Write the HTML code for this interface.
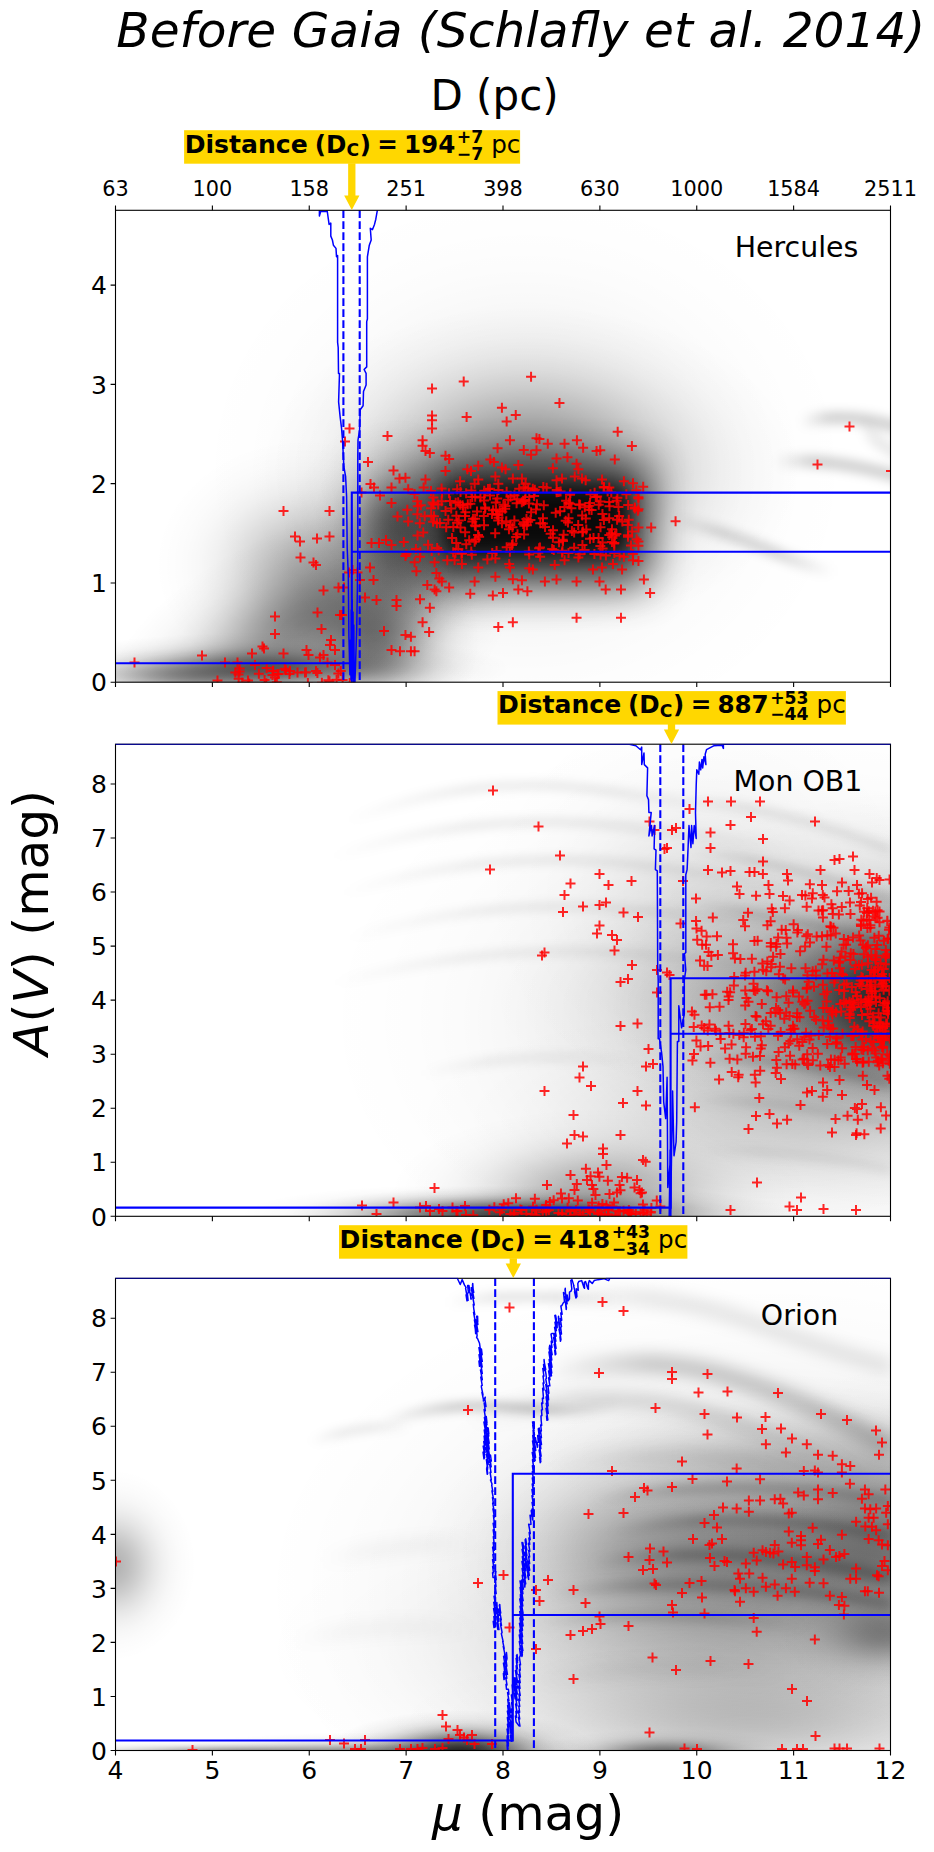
<!DOCTYPE html>
<html><head><meta charset="utf-8"><title>Before Gaia (Schlafly et al. 2014)</title>
<style>html,body{margin:0;padding:0;background:#fff}svg{display:block}</style></head>
<body>
<svg width="934" height="1852" viewBox="0 0 934 1852" font-family="DejaVu Sans, Liberation Sans, sans-serif" fill="#000">
<defs><radialGradient id="gg" cx="0.5" cy="0.5" r="0.5"><stop offset="0.0" stop-color="#000" stop-opacity="1.000"/><stop offset="0.1" stop-color="#000" stop-opacity="0.956"/><stop offset="0.2" stop-color="#000" stop-opacity="0.835"/><stop offset="0.3" stop-color="#000" stop-opacity="0.667"/><stop offset="0.4" stop-color="#000" stop-opacity="0.487"/><stop offset="0.5" stop-color="#000" stop-opacity="0.325"/><stop offset="0.6" stop-color="#000" stop-opacity="0.198"/><stop offset="0.7" stop-color="#000" stop-opacity="0.110"/><stop offset="0.8" stop-color="#000" stop-opacity="0.056"/><stop offset="0.9" stop-color="#000" stop-opacity="0.026"/><stop offset="1.0" stop-color="#000" stop-opacity="0.000"/></radialGradient><clipPath id="c0"><rect x="115.5" y="210.3" width="775.0" height="471.9"/></clipPath><clipPath id="c1"><rect x="115.5" y="744.2" width="775.0" height="472.1"/></clipPath><clipPath id="c2"><rect x="115.5" y="1278.3" width="775.0" height="472.2"/></clipPath><filter id="b3" filterUnits="userSpaceOnUse" x="0" y="0" width="934" height="1852"><feGaussianBlur stdDeviation="3"/></filter><filter id="b5" filterUnits="userSpaceOnUse" x="0" y="0" width="934" height="1852"><feGaussianBlur stdDeviation="5"/></filter><filter id="b8" filterUnits="userSpaceOnUse" x="0" y="0" width="934" height="1852"><feGaussianBlur stdDeviation="8"/></filter><filter id="b12" filterUnits="userSpaceOnUse" x="0" y="0" width="934" height="1852"><feGaussianBlur stdDeviation="12"/></filter><filter id="b22" filterUnits="userSpaceOnUse" x="0" y="0" width="934" height="1852"><feGaussianBlur stdDeviation="22"/></filter><filter id="b10" filterUnits="userSpaceOnUse" x="0" y="0" width="934" height="1852"><feGaussianBlur stdDeviation="10"/></filter></defs>
<g clip-path="url(#c0)"><ellipse cx="525" cy="470" rx="330" ry="285" fill="url(#gg)" opacity="0.12"/><ellipse cx="530" cy="470" rx="270" ry="165" fill="url(#gg)" opacity="0.4"/><rect x="428" y="466" width="220" height="118" fill="#000" opacity="0.8" filter="url(#b22)"/><rect x="447" y="489" width="180" height="63" fill="#000" opacity="0.72" filter="url(#b10)"/><ellipse cx="400" cy="560" rx="120" ry="150" fill="url(#gg)" opacity="0.4"/><ellipse cx="398" cy="520" rx="84" ry="102" fill="url(#gg)" opacity="0.45"/><ellipse cx="305" cy="565" rx="150" ry="126" fill="url(#gg)" opacity="0.28"/><ellipse cx="375" cy="640" rx="105" ry="90" fill="url(#gg)" opacity="0.45"/><ellipse cx="300" cy="625" rx="210" ry="96" fill="url(#gg)" opacity="0.42" transform="rotate(-25 300 625)"/><ellipse cx="270" cy="668" rx="240" ry="36" fill="url(#gg)" opacity="0.55"/><ellipse cx="180" cy="676" rx="150" ry="27" fill="url(#gg)" opacity="0.3"/><linearGradient id="s1" gradientUnits="userSpaceOnUse" x1="800" y1="0" x2="900" y2="0"><stop offset="0" stop-color="#000" stop-opacity="0"/><stop offset="0.3" stop-color="#000" stop-opacity="1"/><stop offset="1" stop-color="#000" stop-opacity="1"/></linearGradient><path d="M800,422 Q850,411 900,428" fill="none" stroke="url(#s1)" stroke-width="13" stroke-opacity="0.17" filter="url(#b5)"/><linearGradient id="s2" gradientUnits="userSpaceOnUse" x1="775" y1="0" x2="900" y2="0"><stop offset="0" stop-color="#000" stop-opacity="0"/><stop offset="0.3" stop-color="#000" stop-opacity="1"/><stop offset="1" stop-color="#000" stop-opacity="1"/></linearGradient><path d="M775,462 Q828,457 900,477" fill="none" stroke="url(#s2)" stroke-width="13" stroke-opacity="0.17" filter="url(#b5)"/><linearGradient id="s3" gradientUnits="userSpaceOnUse" x1="672" y1="0" x2="835" y2="0"><stop offset="0" stop-color="#000" stop-opacity="0"/><stop offset="0.3" stop-color="#000" stop-opacity="1"/><stop offset="0.65" stop-color="#000" stop-opacity="1"/><stop offset="1" stop-color="#000" stop-opacity="0"/></linearGradient><path d="M672,519 Q721,530 774,552 T835,570" fill="none" stroke="url(#s3)" stroke-width="12" stroke-opacity="0.15" filter="url(#b5)"/><linearGradient id="s4" gradientUnits="userSpaceOnUse" x1="860" y1="0" x2="900" y2="0"><stop offset="0" stop-color="#000" stop-opacity="0"/><stop offset="0.3" stop-color="#000" stop-opacity="1"/><stop offset="1" stop-color="#000" stop-opacity="1"/></linearGradient><path d="M860,425 Q880,445 900,455" fill="none" stroke="url(#s4)" stroke-width="14" stroke-opacity="0.08" filter="url(#b5)"/></g>
<g clip-path="url(#c1)"><ellipse cx="800" cy="1020" rx="480" ry="315" fill="url(#gg)" opacity="0.16"/><ellipse cx="910" cy="1000" rx="300" ry="210" fill="url(#gg)" opacity="0.42"/><ellipse cx="850" cy="1002" rx="360" ry="126" fill="url(#gg)" opacity="0.25"/><ellipse cx="700" cy="900" rx="225" ry="210" fill="url(#gg)" opacity="0.08"/><ellipse cx="900" cy="1000" rx="165" ry="120" fill="url(#gg)" opacity="0.68"/><ellipse cx="545" cy="1215" rx="255" ry="30" fill="url(#gg)" opacity="0.7"/><ellipse cx="450" cy="1215" rx="210" ry="30" fill="url(#gg)" opacity="0.35"/><ellipse cx="600" cy="1192" rx="210" ry="84" fill="url(#gg)" opacity="0.32"/><ellipse cx="760" cy="1120" rx="360" ry="120" fill="url(#gg)" opacity="0.1"/><linearGradient id="s5" gradientUnits="userSpaceOnUse" x1="345" y1="0" x2="760" y2="0"><stop offset="0" stop-color="#000" stop-opacity="0"/><stop offset="0.3" stop-color="#000" stop-opacity="1"/><stop offset="0.65" stop-color="#000" stop-opacity="1"/><stop offset="1" stop-color="#000" stop-opacity="0"/></linearGradient><path d="M345,822 Q470,772 600,790 T760,812" fill="none" stroke="url(#s5)" stroke-width="8" stroke-opacity="0.085" filter="url(#b5)"/><linearGradient id="s6" gradientUnits="userSpaceOnUse" x1="330" y1="0" x2="800" y2="0"><stop offset="0" stop-color="#000" stop-opacity="0"/><stop offset="0.3" stop-color="#000" stop-opacity="1"/><stop offset="0.65" stop-color="#000" stop-opacity="1"/><stop offset="1" stop-color="#000" stop-opacity="0"/></linearGradient><path d="M330,858 Q470,810 620,826 T800,856" fill="none" stroke="url(#s6)" stroke-width="8" stroke-opacity="0.085" filter="url(#b5)"/><linearGradient id="s7" gradientUnits="userSpaceOnUse" x1="340" y1="0" x2="820" y2="0"><stop offset="0" stop-color="#000" stop-opacity="0"/><stop offset="0.3" stop-color="#000" stop-opacity="1"/><stop offset="0.65" stop-color="#000" stop-opacity="1"/><stop offset="1" stop-color="#000" stop-opacity="0"/></linearGradient><path d="M340,895 Q480,848 630,864 T820,900" fill="none" stroke="url(#s7)" stroke-width="8" stroke-opacity="0.085" filter="url(#b5)"/><linearGradient id="s8" gradientUnits="userSpaceOnUse" x1="345" y1="0" x2="830" y2="0"><stop offset="0" stop-color="#000" stop-opacity="0"/><stop offset="0.3" stop-color="#000" stop-opacity="1"/><stop offset="0.65" stop-color="#000" stop-opacity="1"/><stop offset="1" stop-color="#000" stop-opacity="0"/></linearGradient><path d="M345,940 Q480,896 640,910 T830,940" fill="none" stroke="url(#s8)" stroke-width="8" stroke-opacity="0.08" filter="url(#b5)"/><linearGradient id="s9" gradientUnits="userSpaceOnUse" x1="330" y1="0" x2="800" y2="0"><stop offset="0" stop-color="#000" stop-opacity="0"/><stop offset="0.3" stop-color="#000" stop-opacity="1"/><stop offset="0.65" stop-color="#000" stop-opacity="1"/><stop offset="1" stop-color="#000" stop-opacity="0"/></linearGradient><path d="M330,985 Q480,942 640,954 T800,975" fill="none" stroke="url(#s9)" stroke-width="8" stroke-opacity="0.075" filter="url(#b5)"/><linearGradient id="s10" gradientUnits="userSpaceOnUse" x1="420" y1="0" x2="640" y2="0"><stop offset="0" stop-color="#000" stop-opacity="0"/><stop offset="0.3" stop-color="#000" stop-opacity="1"/><stop offset="0.65" stop-color="#000" stop-opacity="1"/><stop offset="1" stop-color="#000" stop-opacity="0"/></linearGradient><path d="M420,1075 Q520,1048 640,1062" fill="none" stroke="url(#s10)" stroke-width="8" stroke-opacity="0.065" filter="url(#b5)"/><linearGradient id="s11" gradientUnits="userSpaceOnUse" x1="690" y1="0" x2="891" y2="0"><stop offset="0" stop-color="#000" stop-opacity="0"/><stop offset="0.3" stop-color="#000" stop-opacity="1"/><stop offset="1" stop-color="#000" stop-opacity="1"/></linearGradient><path d="M690,800 Q790,810 891,850" fill="none" stroke="url(#s11)" stroke-width="8" stroke-opacity="0.1" filter="url(#b5)"/><linearGradient id="s12" gradientUnits="userSpaceOnUse" x1="690" y1="0" x2="891" y2="0"><stop offset="0" stop-color="#000" stop-opacity="0"/><stop offset="0.3" stop-color="#000" stop-opacity="1"/><stop offset="1" stop-color="#000" stop-opacity="1"/></linearGradient><path d="M690,850 Q790,862 891,900" fill="none" stroke="url(#s12)" stroke-width="8" stroke-opacity="0.12" filter="url(#b5)"/><linearGradient id="s13" gradientUnits="userSpaceOnUse" x1="690" y1="0" x2="891" y2="0"><stop offset="0" stop-color="#000" stop-opacity="0"/><stop offset="0.3" stop-color="#000" stop-opacity="1"/><stop offset="1" stop-color="#000" stop-opacity="1"/></linearGradient><path d="M690,905 Q790,915 891,945" fill="none" stroke="url(#s13)" stroke-width="9" stroke-opacity="0.14" filter="url(#b5)"/><linearGradient id="s14" gradientUnits="userSpaceOnUse" x1="690" y1="0" x2="891" y2="0"><stop offset="0" stop-color="#000" stop-opacity="0"/><stop offset="0.3" stop-color="#000" stop-opacity="1"/><stop offset="1" stop-color="#000" stop-opacity="1"/></linearGradient><path d="M690,1060 Q790,1055 891,1085" fill="none" stroke="url(#s14)" stroke-width="9" stroke-opacity="0.16" filter="url(#b5)"/><linearGradient id="s15" gradientUnits="userSpaceOnUse" x1="690" y1="0" x2="891" y2="0"><stop offset="0" stop-color="#000" stop-opacity="0"/><stop offset="0.3" stop-color="#000" stop-opacity="1"/><stop offset="1" stop-color="#000" stop-opacity="1"/></linearGradient><path d="M690,1100 Q790,1100 891,1125" fill="none" stroke="url(#s15)" stroke-width="8" stroke-opacity="0.1" filter="url(#b5)"/><linearGradient id="s16" gradientUnits="userSpaceOnUse" x1="700" y1="0" x2="891" y2="0"><stop offset="0" stop-color="#000" stop-opacity="0"/><stop offset="0.3" stop-color="#000" stop-opacity="1"/><stop offset="1" stop-color="#000" stop-opacity="1"/></linearGradient><path d="M700,1150 Q800,1150 891,1170" fill="none" stroke="url(#s16)" stroke-width="8" stroke-opacity="0.07" filter="url(#b5)"/></g>
<g clip-path="url(#c2)"><ellipse cx="770" cy="1590" rx="510" ry="330" fill="url(#gg)" opacity="0.22"/><ellipse cx="800" cy="1550" rx="345" ry="150" fill="url(#gg)" opacity="0.36"/><ellipse cx="640" cy="1550" rx="225" ry="144" fill="url(#gg)" opacity="0.16"/><ellipse cx="890" cy="1545" rx="150" ry="180" fill="url(#gg)" opacity="0.27"/><ellipse cx="700" cy="1650" rx="450" ry="165" fill="url(#gg)" opacity="0.12"/><ellipse cx="462" cy="1752" rx="135" ry="42" fill="url(#gg)" opacity="0.8"/><ellipse cx="380" cy="1753" rx="225" ry="21" fill="url(#gg)" opacity="0.4"/><ellipse cx="235" cy="1752" rx="225" ry="12" fill="url(#gg)" opacity="0.4"/><ellipse cx="665" cy="1753" rx="135" ry="24" fill="url(#gg)" opacity="0.5"/><ellipse cx="750" cy="1722" rx="360" ry="84" fill="url(#gg)" opacity="0.14"/><ellipse cx="112" cy="1565" rx="84" ry="96" fill="url(#gg)" opacity="0.3"/><ellipse cx="885" cy="1635" rx="105" ry="54" fill="url(#gg)" opacity="0.3"/><ellipse cx="800" cy="1455" rx="270" ry="84" fill="url(#gg)" opacity="0.12"/><linearGradient id="s17" gradientUnits="userSpaceOnUse" x1="545" y1="0" x2="891" y2="0"><stop offset="0" stop-color="#000" stop-opacity="0"/><stop offset="0.3" stop-color="#000" stop-opacity="1"/><stop offset="1" stop-color="#000" stop-opacity="1"/></linearGradient><path d="M545,1300 Q650,1286 751,1322 T891,1367" fill="none" stroke="url(#s17)" stroke-width="13" stroke-opacity="0.12" filter="url(#b8)"/><linearGradient id="s18" gradientUnits="userSpaceOnUse" x1="447" y1="0" x2="620" y2="0"><stop offset="0" stop-color="#000" stop-opacity="0"/><stop offset="0.3" stop-color="#000" stop-opacity="1"/><stop offset="0.65" stop-color="#000" stop-opacity="1"/><stop offset="1" stop-color="#000" stop-opacity="0"/></linearGradient><path d="M447,1303 Q500,1292 620,1300" fill="none" stroke="url(#s18)" stroke-width="10" stroke-opacity="0.1" filter="url(#b5)"/><linearGradient id="s19" gradientUnits="userSpaceOnUse" x1="545" y1="0" x2="891" y2="0"><stop offset="0" stop-color="#000" stop-opacity="0"/><stop offset="0.3" stop-color="#000" stop-opacity="1"/><stop offset="1" stop-color="#000" stop-opacity="1"/></linearGradient><path d="M545,1374 Q640,1354 715,1373 Q800,1396 891,1447" fill="none" stroke="url(#s19)" stroke-width="18" stroke-opacity="0.22" filter="url(#b8)"/><linearGradient id="s20" gradientUnits="userSpaceOnUse" x1="470" y1="0" x2="860" y2="0"><stop offset="0" stop-color="#000" stop-opacity="0"/><stop offset="0.3" stop-color="#000" stop-opacity="1"/><stop offset="0.65" stop-color="#000" stop-opacity="1"/><stop offset="1" stop-color="#000" stop-opacity="0"/></linearGradient><path d="M470,1420 Q584,1388 676,1406 Q760,1425 860,1474" fill="none" stroke="url(#s20)" stroke-width="14" stroke-opacity="0.16" filter="url(#b8)"/><linearGradient id="s21" gradientUnits="userSpaceOnUse" x1="380" y1="0" x2="620" y2="0"><stop offset="0" stop-color="#000" stop-opacity="0"/><stop offset="0.3" stop-color="#000" stop-opacity="1"/><stop offset="0.65" stop-color="#000" stop-opacity="1"/><stop offset="1" stop-color="#000" stop-opacity="0"/></linearGradient><path d="M380,1424 Q440,1400 520,1408 T620,1398" fill="none" stroke="url(#s21)" stroke-width="9" stroke-opacity="0.2" filter="url(#b5)"/><linearGradient id="s22" gradientUnits="userSpaceOnUse" x1="310" y1="0" x2="410" y2="0"><stop offset="0" stop-color="#000" stop-opacity="0"/><stop offset="0.3" stop-color="#000" stop-opacity="1"/><stop offset="0.65" stop-color="#000" stop-opacity="1"/><stop offset="1" stop-color="#000" stop-opacity="0"/></linearGradient><path d="M310,1442 Q360,1424 410,1427" fill="none" stroke="url(#s22)" stroke-width="8" stroke-opacity="0.09" filter="url(#b5)"/><linearGradient id="s23" gradientUnits="userSpaceOnUse" x1="590" y1="0" x2="891" y2="0"><stop offset="0" stop-color="#000" stop-opacity="0"/><stop offset="0.3" stop-color="#000" stop-opacity="1"/><stop offset="1" stop-color="#000" stop-opacity="1"/></linearGradient><path d="M590,1502 Q720,1474 891,1500" fill="none" stroke="url(#s23)" stroke-width="11" stroke-opacity="0.18" filter="url(#b5)"/><linearGradient id="s24" gradientUnits="userSpaceOnUse" x1="610" y1="0" x2="891" y2="0"><stop offset="0" stop-color="#000" stop-opacity="0"/><stop offset="0.3" stop-color="#000" stop-opacity="1"/><stop offset="1" stop-color="#000" stop-opacity="1"/></linearGradient><path d="M610,1532 Q740,1506 891,1536" fill="none" stroke="url(#s24)" stroke-width="11" stroke-opacity="0.2" filter="url(#b5)"/><linearGradient id="s25" gradientUnits="userSpaceOnUse" x1="590" y1="0" x2="891" y2="0"><stop offset="0" stop-color="#000" stop-opacity="0"/><stop offset="0.3" stop-color="#000" stop-opacity="1"/><stop offset="1" stop-color="#000" stop-opacity="1"/></linearGradient><path d="M590,1564 Q730,1540 891,1578" fill="none" stroke="url(#s25)" stroke-width="12" stroke-opacity="0.22" filter="url(#b5)"/><linearGradient id="s26" gradientUnits="userSpaceOnUse" x1="550" y1="0" x2="891" y2="0"><stop offset="0" stop-color="#000" stop-opacity="0"/><stop offset="0.3" stop-color="#000" stop-opacity="1"/><stop offset="1" stop-color="#000" stop-opacity="1"/></linearGradient><path d="M550,1594 Q700,1572 891,1604" fill="none" stroke="url(#s26)" stroke-width="11" stroke-opacity="0.2" filter="url(#b5)"/><linearGradient id="s27" gradientUnits="userSpaceOnUse" x1="530" y1="0" x2="810" y2="0"><stop offset="0" stop-color="#000" stop-opacity="0"/><stop offset="0.3" stop-color="#000" stop-opacity="1"/><stop offset="0.65" stop-color="#000" stop-opacity="1"/><stop offset="1" stop-color="#000" stop-opacity="0"/></linearGradient><path d="M530,1624 Q650,1606 810,1628" fill="none" stroke="url(#s27)" stroke-width="10" stroke-opacity="0.12" filter="url(#b5)"/><linearGradient id="s28" gradientUnits="userSpaceOnUse" x1="550" y1="0" x2="870" y2="0"><stop offset="0" stop-color="#000" stop-opacity="0"/><stop offset="0.3" stop-color="#000" stop-opacity="1"/><stop offset="0.65" stop-color="#000" stop-opacity="1"/><stop offset="1" stop-color="#000" stop-opacity="0"/></linearGradient><path d="M550,1466 Q700,1440 870,1480" fill="none" stroke="url(#s28)" stroke-width="11" stroke-opacity="0.12" filter="url(#b8)"/><linearGradient id="s29" gradientUnits="userSpaceOnUse" x1="530" y1="0" x2="790" y2="0"><stop offset="0" stop-color="#000" stop-opacity="0"/><stop offset="0.3" stop-color="#000" stop-opacity="1"/><stop offset="0.65" stop-color="#000" stop-opacity="1"/><stop offset="1" stop-color="#000" stop-opacity="0"/></linearGradient><path d="M530,1682 Q650,1660 790,1672" fill="none" stroke="url(#s29)" stroke-width="11" stroke-opacity="0.08" filter="url(#b8)"/><linearGradient id="s30" gradientUnits="userSpaceOnUse" x1="320" y1="0" x2="480" y2="0"><stop offset="0" stop-color="#000" stop-opacity="0"/><stop offset="0.3" stop-color="#000" stop-opacity="1"/><stop offset="0.65" stop-color="#000" stop-opacity="1"/><stop offset="1" stop-color="#000" stop-opacity="0"/></linearGradient><path d="M320,1562 Q400,1540 480,1545" fill="none" stroke="url(#s30)" stroke-width="10" stroke-opacity="0.06" filter="url(#b8)"/><linearGradient id="s31" gradientUnits="userSpaceOnUse" x1="290" y1="0" x2="480" y2="0"><stop offset="0" stop-color="#000" stop-opacity="0"/><stop offset="0.3" stop-color="#000" stop-opacity="1"/><stop offset="0.65" stop-color="#000" stop-opacity="1"/><stop offset="1" stop-color="#000" stop-opacity="0"/></linearGradient><path d="M290,1642 Q380,1620 480,1630" fill="none" stroke="url(#s31)" stroke-width="10" stroke-opacity="0.05" filter="url(#b8)"/></g>
<g clip-path="url(#c0)"><g fill="none" stroke="#ff0000" stroke-opacity="0.85" stroke-width="2"><path d="M344.5 428.5h10m-5-5v10M365.5 484h10m-5-5v10M312 538.5h10m-5-5v10M333.5 587.5h10m-5-5v10M257.5 646.5h10m-5-5v10M197 655.5h10m-5-5v10M212.5 680.5h10m-5-5v10M292.5 672.5h10m-5-5v10M326 640h10m-5-5v10M375 495.5h10m-5-5v10M381 540h10m-5-5v10M391.5 606h10m-5-5v10M352.5 572.5h10m-5-5v10M886 471h10m-5-5v10M510.76 415.06h10m-5-5v10M612.69 431.8h10m-5-5v10M504.94 440.17h10m-5-5v10M578.11 447.82h10m-5-5v10M492.56 448.18h10m-5-5v10M496.93 467.48h10m-5-5v10M465.99 471.12h10m-5-5v10M562.46 457.28h10m-5-5v10M569.74 476.58h10m-5-5v10M618.88 481.31h10m-5-5v10M490.38 476.58h10m-5-5v10M411.38 571.23h10m-5-5v10M473.27 567.59h10m-5-5v10M527.87 569.41h10m-5-5v10M597.04 567.59h10m-5-5v10M431.4 573.05h10m-5-5v10M422.3 585.06h10m-5-5v10M516.95 580.33h10m-5-5v10M539.89 581.42h10m-5-5v10M638.9 579.6h10m-5-5v10M417.57 622.19h10m-5-5v10M409.56 651.31h10m-5-5v10M633.44 509.34h10m-5-5v10M419.68 516.29h10m-5-5v10M550.7 512.7h10m-5-5v10M565.06 503.84h10m-5-5v10M534.95 547.41h10m-5-5v10M490.2 533.14h10m-5-5v10M497.26 511.76h10m-5-5v10M545.6 533.66h10m-5-5v10M606.97 529.37h10m-5-5v10M524.25 497.12h10m-5-5v10M451.31 542.99h10m-5-5v10M504.89 551.65h10m-5-5v10M418.26 532.58h10m-5-5v10M428.36 497.43h10m-5-5v10M523.85 551.42h10m-5-5v10M507.5 527.25h10m-5-5v10M531 509.49h10m-5-5v10M579.64 549.96h10m-5-5v10M623.18 504.91h10m-5-5v10M450.48 552.72h10m-5-5v10M520.43 491.44h10m-5-5v10M565.4 493.17h10m-5-5v10M523.93 503.45h10m-5-5v10M443.28 519.76h10m-5-5v10M566.91 530.88h10m-5-5v10M468.04 518.7h10m-5-5v10M461.14 493.19h10m-5-5v10M633.35 497.31h10m-5-5v10M597.55 542.52h10m-5-5v10M560.68 520.76h10m-5-5v10M447.05 538.05h10m-5-5v10M558.61 534.76h10m-5-5v10M448.15 552.25h10m-5-5v10M470.17 496.71h10m-5-5v10M486.96 514.11h10m-5-5v10M487.23 552.98h10m-5-5v10M480.14 507.55h10m-5-5v10M516.8 502.18h10m-5-5v10M534.14 548.22h10m-5-5v10M604.22 501.9h10m-5-5v10M538.34 487.01h10m-5-5v10M529.81 489.73h10m-5-5v10M541.65 487.72h10m-5-5v10M403.21 521.38h10m-5-5v10M588.5 538h10m-5-5v10M557.01 552.46h10m-5-5v10M233.67 678.63h10m-5-5v10M253.85 673.71h10m-5-5v10M233.48 674.57h10m-5-5v10M261.32 683.32h10m-5-5v10"/><path d="M340 441.5h10m-5-5v10M356.5 492.5h10m-5-5v10M324.5 536.5h10m-5-5v10M312.5 612.5h10m-5-5v10M259 648.5h10m-5-5v10M129.5 662.5h10m-5-5v10M243 680.5h10m-5-5v10M300 672.5h10m-5-5v10M330 650h10m-5-5v10M386.5 487.5h10m-5-5v10M386.5 545h10m-5-5v10M379 631h10m-5-5v10M344 572.5h10m-5-5v10M427.03 388.48h10m-5-5v10M461.62 416.88h10m-5-5v10M626.89 446h10m-5-5v10M531.51 438.35h10m-5-5v10M591.58 451.1h10m-5-5v10M518.77 450h10m-5-5v10M500.57 469.3h10m-5-5v10M440.5 471.12h10m-5-5v10M571.56 463.84h10m-5-5v10M577.02 478.4h10m-5-5v10M627.98 483.13h10m-5-5v10M493.29 483.86h10m-5-5v10M415.02 556.67h10m-5-5v10M482.37 559.58h10m-5-5v10M535.15 556.67h10m-5-5v10M607.96 563.95h10m-5-5v10M434.32 578.51h10m-5-5v10M415.02 599.26h10m-5-5v10M522.41 591.25h10m-5-5v10M551.53 579.6h10m-5-5v10M645.09 593.07h10m-5-5v10M424.12 632.02h10m-5-5v10M670.57 521.35h10m-5-5v10M633.44 498.42h10m-5-5v10M427.59 502.4h10m-5-5v10M528.91 491.33h10m-5-5v10M535.29 523.24h10m-5-5v10M472.99 534.98h10m-5-5v10M425.99 491.07h10m-5-5v10M609.32 553.08h10m-5-5v10M410.9 549.07h10m-5-5v10M485.04 495.48h10m-5-5v10M527.82 488.87h10m-5-5v10M633.4 545.83h10m-5-5v10M450.69 502.65h10m-5-5v10M584.97 538.76h10m-5-5v10M590.75 497.09h10m-5-5v10M501.68 547.15h10m-5-5v10M614.13 516.02h10m-5-5v10M521.89 525.33h10m-5-5v10M503.94 529.26h10m-5-5v10M455.51 492.05h10m-5-5v10M493.18 520.62h10m-5-5v10M633.43 541.4h10m-5-5v10M415.31 551.75h10m-5-5v10M446.22 508.53h10m-5-5v10M621.38 494.33h10m-5-5v10M494.72 510.98h10m-5-5v10M627.87 554.11h10m-5-5v10M493.48 489.88h10m-5-5v10M551.73 490.02h10m-5-5v10M595.51 527.3h10m-5-5v10M398.79 542.04h10m-5-5v10M512.48 534.18h10m-5-5v10M559.49 507.07h10m-5-5v10M448.36 527.12h10m-5-5v10M480.21 508.81h10m-5-5v10M500.3 505.99h10m-5-5v10M609.34 543.03h10m-5-5v10M574.63 554.36h10m-5-5v10M614.6 555.76h10m-5-5v10M577.17 515.48h10m-5-5v10M462.77 504.14h10m-5-5v10M491.57 550.95h10m-5-5v10M584.97 503.05h10m-5-5v10M470.06 518.79h10m-5-5v10M498.38 504.75h10m-5-5v10M518.67 501.16h10m-5-5v10M412.37 514.14h10m-5-5v10M273.54 673.98h10m-5-5v10M324.48 681.15h10m-5-5v10M323.36 680.27h10m-5-5v10M300.95 672.19h10m-5-5v10"/><path d="M382.5 436h10m-5-5v10M278.5 511h10m-5-5v10M295.5 557.5h10m-5-5v10M270 616.5h10m-5-5v10M247 653.5h10m-5-5v10M220 662.5h10m-5-5v10M267.5 675h10m-5-5v10M311 671h10m-5-5v10M270 677.5h10m-5-5v10M386.5 503h10m-5-5v10M368.5 580h10m-5-5v10M386.5 650h10m-5-5v10M339 587.5h10m-5-5v10M458.71 381.57h10m-5-5v10M501.66 421.61h10m-5-5v10M417.57 440.17h10m-5-5v10M534.42 439.08h10m-5-5v10M595.22 450.37h10m-5-5v10M526.05 454.74h10m-5-5v10M513.31 464.93h10m-5-5v10M420.48 479.49h10m-5-5v10M573.38 469.3h10m-5-5v10M580.66 480.22h10m-5-5v10M638.17 486.77h10m-5-5v10M507.85 478.4h10m-5-5v10M429.58 562.13h10m-5-5v10M490.38 558.49h10m-5-5v10M549.71 565.04h10m-5-5v10M617.06 569.41h10m-5-5v10M436.86 581.42h10m-5-5v10M424.85 607.63h10m-5-5v10M513.31 589.43h10m-5-5v10M571.56 581.42h10m-5-5v10M571.56 617.82h10m-5-5v10M400.46 634.93h10m-5-5v10M646.18 527.54h10m-5-5v10M475.4 497.41h10m-5-5v10M631.32 490.21h10m-5-5v10M412.24 501.21h10m-5-5v10M607.16 537.33h10m-5-5v10M540.05 527.01h10m-5-5v10M606.27 492.56h10m-5-5v10M453.77 520.46h10m-5-5v10M607.01 542.05h10m-5-5v10M600.9 555.52h10m-5-5v10M524.22 554.52h10m-5-5v10M593.58 538.05h10m-5-5v10M445.01 501.1h10m-5-5v10M512.25 499.32h10m-5-5v10M595.54 554.64h10m-5-5v10M595.45 501.56h10m-5-5v10M617.34 521.61h10m-5-5v10M585.44 494.32h10m-5-5v10M518.83 522.34h10m-5-5v10M558 541.09h10m-5-5v10M501.13 522.58h10m-5-5v10M584.18 505.66h10m-5-5v10M589.59 492.78h10m-5-5v10M470.9 539.41h10m-5-5v10M501.29 521.16h10m-5-5v10M575.07 504.64h10m-5-5v10M456.42 553.63h10m-5-5v10M537.95 523.51h10m-5-5v10M597.63 548.54h10m-5-5v10M611.39 534.12h10m-5-5v10M518.21 523.93h10m-5-5v10M581.31 529.57h10m-5-5v10M521.45 519.06h10m-5-5v10M431.88 523.16h10m-5-5v10M598.82 487.12h10m-5-5v10M409.54 494.02h10m-5-5v10M548.78 550.03h10m-5-5v10M460.18 532.26h10m-5-5v10M505.54 496.63h10m-5-5v10M496.92 523.17h10m-5-5v10M493.54 517.76h10m-5-5v10M595.32 546.03h10m-5-5v10M428.58 504.37h10m-5-5v10M627.19 531.48h10m-5-5v10M557.5 550.84h10m-5-5v10M629.8 508.51h10m-5-5v10M331.61 679.72h10m-5-5v10M268.15 670.71h10m-5-5v10M279.73 668.79h10m-5-5v10M234.67 668.56h10m-5-5v10M312.41 673.06h10m-5-5v10"/><path d="M363 462h10m-5-5v10M324.5 511h10m-5-5v10M308.5 562.5h10m-5-5v10M270 634h10m-5-5v10M278.5 653.5h10m-5-5v10M232.5 662.5h10m-5-5v10M272.5 674h10m-5-5v10M315 657.5h10m-5-5v10M322.5 662.5h10m-5-5v10M392.5 516.5h10m-5-5v10M360 597.5h10m-5-5v10M365 567.5h10m-5-5v10M335 615h10m-5-5v10M526.05 376.83h10m-5-5v10M427.03 415.42h10m-5-5v10M417.57 445.64h10m-5-5v10M542.8 443.82h10m-5-5v10M609.78 459.47h10m-5-5v10M531.51 450.37h10m-5-5v10M516.95 478.4h10m-5-5v10M400.46 477.67h10m-5-5v10M547.89 468.21h10m-5-5v10M597.04 479.49h10m-5-5v10M455.07 481.31h10m-5-5v10M520.59 483.86h10m-5-5v10M442.32 560.31h10m-5-5v10M504.21 563.95h10m-5-5v10M559.54 560.31h10m-5-5v10M618.88 556.67h10m-5-5v10M429.58 589.43h10m-5-5v10M469.63 581.42h10m-5-5v10M498.02 593.07h10m-5-5v10M594.49 581.42h10m-5-5v10M615.97 617.82h10m-5-5v10M405.92 636.75h10m-5-5v10M633.44 527.54h10m-5-5v10M553.57 492h10m-5-5v10M467.22 496.95h10m-5-5v10M500.19 508.68h10m-5-5v10M466.82 554.63h10m-5-5v10M507.03 544.96h10m-5-5v10M505.36 524.91h10m-5-5v10M538.8 505.13h10m-5-5v10M491.78 514.53h10m-5-5v10M509.37 520.38h10m-5-5v10M604.33 535.04h10m-5-5v10M452.19 522.72h10m-5-5v10M547.15 549.12h10m-5-5v10M586.6 509.94h10m-5-5v10M555.09 511.18h10m-5-5v10M458.19 507.21h10m-5-5v10M523.12 488.29h10m-5-5v10M531.91 504.15h10m-5-5v10M563.56 518.21h10m-5-5v10M612.39 497.66h10m-5-5v10M479.05 500.51h10m-5-5v10M428.96 516.14h10m-5-5v10M602.64 491.6h10m-5-5v10M467.3 521.51h10m-5-5v10M597.47 514.12h10m-5-5v10M437.02 492.83h10m-5-5v10M471.98 511.6h10m-5-5v10M577.38 532.37h10m-5-5v10M547.93 537.64h10m-5-5v10M563.7 502.87h10m-5-5v10M555.57 491.56h10m-5-5v10M551.62 492.35h10m-5-5v10M509.46 495.18h10m-5-5v10M609.96 535.53h10m-5-5v10M577.43 544.9h10m-5-5v10M466.26 551.56h10m-5-5v10M622.83 524.9h10m-5-5v10M469.9 525.46h10m-5-5v10M443.99 493.26h10m-5-5v10M488.07 510.34h10m-5-5v10M625.99 545.56h10m-5-5v10M434.9 523.04h10m-5-5v10M564.96 494.74h10m-5-5v10M511.6 503.2h10m-5-5v10M452.2 489.35h10m-5-5v10M453.16 502.28h10m-5-5v10M344.72 682.91h10m-5-5v10M230.33 672.48h10m-5-5v10M284.45 673.96h10m-5-5v10M237.2 682.72h10m-5-5v10M261.7 668.06h10m-5-5v10"/><path d="M388.5 470.5h10m-5-5v10M290 536.5h10m-5-5v10M311 565h10m-5-5v10M316.5 629h10m-5-5v10M301.5 650h10m-5-5v10M234.5 671.5h10m-5-5v10M281 670h10m-5-5v10M318.5 655h10m-5-5v10M330 665h10m-5-5v10M366.5 543h10m-5-5v10M371.5 600h10m-5-5v10M355 580h10m-5-5v10M844.5 426.5h10m-5-5v10M554.45 403.04h10m-5-5v10M427.03 420.15h10m-5-5v10M420.48 451.1h10m-5-5v10M559.54 443.82h10m-5-5v10M440.5 455.83h10m-5-5v10M485.28 459.47h10m-5-5v10M473.27 465.66h10m-5-5v10M418.66 487.5h10m-5-5v10M556.99 478.4h10m-5-5v10M598.86 487.5h10m-5-5v10M469.63 483.86h10m-5-5v10M400.46 555.94h10m-5-5v10M449.61 560.31h10m-5-5v10M504.94 567.59h10m-5-5v10M573.38 557.39h10m-5-5v10M627.98 560.31h10m-5-5v10M431.4 591.25h10m-5-5v10M490.38 576.69h10m-5-5v10M487.83 595.62h10m-5-5v10M600.68 589.43h10m-5-5v10M507.85 622.19h10m-5-5v10M395 651.31h10m-5-5v10M631.62 539.19h10m-5-5v10M526.08 512.23h10m-5-5v10M426.15 508.29h10m-5-5v10M537.95 518.27h10m-5-5v10M426.22 515.85h10m-5-5v10M623.78 519.71h10m-5-5v10M609.13 543.53h10m-5-5v10M533.36 552.76h10m-5-5v10M479.27 490.63h10m-5-5v10M461.28 544.19h10m-5-5v10M460.41 512.3h10m-5-5v10M482.98 489h10m-5-5v10M598.86 520.08h10m-5-5v10M589.4 554.04h10m-5-5v10M529.13 496.04h10m-5-5v10M455.49 527.46h10m-5-5v10M503.19 499.63h10m-5-5v10M464.18 540.29h10m-5-5v10M525.46 519.98h10m-5-5v10M569.15 532.56h10m-5-5v10M474.13 536.83h10m-5-5v10M593.74 504.84h10m-5-5v10M604.2 518.31h10m-5-5v10M440.52 510.94h10m-5-5v10M519.1 534.45h10m-5-5v10M606.06 533.27h10m-5-5v10M518.16 500.87h10m-5-5v10M569.12 547.66h10m-5-5v10M592.12 496.61h10m-5-5v10M423.08 544.67h10m-5-5v10M574.09 504.4h10m-5-5v10M433.23 504.52h10m-5-5v10M611.59 500.75h10m-5-5v10M453.3 548.94h10m-5-5v10M426.69 550.92h10m-5-5v10M457.59 505.34h10m-5-5v10M577.89 531.47h10m-5-5v10M492.25 498.55h10m-5-5v10M479.73 493.29h10m-5-5v10M412.83 506.15h10m-5-5v10M403.21 489.22h10m-5-5v10M623.02 536.8h10m-5-5v10M414.81 523.19h10m-5-5v10M457.05 553.28h10m-5-5v10M478.79 516.02h10m-5-5v10M579.75 507.35h10m-5-5v10M267.86 670.97h10m-5-5v10M270.42 683.29h10m-5-5v10M335.74 671.09h10m-5-5v10M259.56 679.96h10m-5-5v10M316.9 682.66h10m-5-5v10"/><path d="M394.5 478.5h10m-5-5v10M295 541.5h10m-5-5v10M318.5 590.5h10m-5-5v10M337 615h10m-5-5v10M303.5 655h10m-5-5v10M250 665h10m-5-5v10M285 671h10m-5-5v10M325 645h10m-5-5v10M369 487.5h10m-5-5v10M374 543h10m-5-5v10M391.5 600h10m-5-5v10M347.5 570h10m-5-5v10M812.5 464.5h10m-5-5v10M496.93 407.78h10m-5-5v10M427.03 428.53h10m-5-5v10M424.85 452.92h10m-5-5v10M571.92 440.17h10m-5-5v10M444.14 459.1h10m-5-5v10M488.92 462.02h10m-5-5v10M462.35 469.3h10m-5-5v10M551.53 458.38h10m-5-5v10M551.53 480.22h10m-5-5v10M604.32 487.5h10m-5-5v10M473.27 479.49h10m-5-5v10M409.56 562.13h10m-5-5v10M456.89 563.95h10m-5-5v10M524.23 568.31h10m-5-5v10M587.94 569.41h10m-5-5v10M633.44 561.03h10m-5-5v10M444.14 587.61h10m-5-5v10M507.85 579.24h10m-5-5v10M465.26 593.8h10m-5-5v10M615.97 589.43h10m-5-5v10M493.29 626.92h10m-5-5v10M405.92 651.31h10m-5-5v10M629.8 507.52h10m-5-5v10M501.64 491.82h10m-5-5v10M441.19 527.13h10m-5-5v10M469.64 541.81h10m-5-5v10M557.7 539.76h10m-5-5v10M412.5 535.4h10m-5-5v10M604.49 506.21h10m-5-5v10M563.03 522.57h10m-5-5v10M484.9 488.76h10m-5-5v10M436.58 488.59h10m-5-5v10M584.19 509.75h10m-5-5v10M563.51 553h10m-5-5v10M554.06 542.18h10m-5-5v10M492.61 514.7h10m-5-5v10M401.4 553.99h10m-5-5v10M459.99 515.91h10m-5-5v10M511.16 537.04h10m-5-5v10M519.34 525.76h10m-5-5v10M623.02 535.25h10m-5-5v10M432.17 547.92h10m-5-5v10M402.32 509.87h10m-5-5v10M433.7 550.42h10m-5-5v10M479.06 525.16h10m-5-5v10M573.21 525.02h10m-5-5v10M632.8 510.65h10m-5-5v10M465.38 503.71h10m-5-5v10M518.63 487.34h10m-5-5v10M491.09 509.5h10m-5-5v10M523.18 521.8h10m-5-5v10M548.04 530.21h10m-5-5v10M415.79 505.32h10m-5-5v10M470.76 526.18h10m-5-5v10M507.69 543.57h10m-5-5v10M514.19 488.71h10m-5-5v10M613.47 507h10m-5-5v10M520.12 500.1h10m-5-5v10M466.4 490.38h10m-5-5v10M436.64 501.34h10m-5-5v10M455.15 504.83h10m-5-5v10M428.08 521.73h10m-5-5v10M612.07 519.66h10m-5-5v10M580.79 518.56h10m-5-5v10M490.75 502.43h10m-5-5v10M566.41 508.21h10m-5-5v10M561.13 500.67h10m-5-5v10M451.37 515.78h10m-5-5v10M337.63 679.94h10m-5-5v10M244.23 683.43h10m-5-5v10M271.89 682.35h10m-5-5v10M333.33 673.43h10m-5-5v10M302.91 683.09h10m-5-5v10"/></g></g>
<g clip-path="url(#c1)"><g fill="none" stroke="#ff0000" stroke-opacity="0.85" stroke-width="2"><path d="M488 790.5h10m-5-5v10M603.5 885h10m-5-5v10M558 912h10m-5-5v10M612 940h10m-5-5v10M615.5 982h10m-5-5v10M539.5 1091h10m-5-5v10M641 1105.5h10m-5-5v10M598 1148.5h10m-5-5v10M587 1185h10m-5-5v10M634.5 1190h10m-5-5v10M667 830h10m-5-5v10M675.5 923.5h10m-5-5v10M726 801.5h10m-5-5v10M705.5 848h10m-5-5v10M744.5 872h10m-5-5v10M763.5 885h10m-5-5v10M829.5 860h10m-5-5v10M849.5 870h10m-5-5v10M725.5 1210h10m-5-5v10M743.5 1129h10m-5-5v10M830.5 1119h10m-5-5v10M834.5 1080h10m-5-5v10M429.5 1188h10m-5-5v10M425 1211h10m-5-5v10M468.26 1215.2h10m-5-5v10M618.51 1210.68h10m-5-5v10M489.33 1207.32h10m-5-5v10M577.76 1215.28h10m-5-5v10M565.41 1215.65h10m-5-5v10M537.72 1212.34h10m-5-5v10M527.98 1206.87h10m-5-5v10M603.14 1214.64h10m-5-5v10M526.88 1214.2h10m-5-5v10M613.07 1211.18h10m-5-5v10M529.83 1215.35h10m-5-5v10M593.59 1206.26h10m-5-5v10M584.56 1209.83h10m-5-5v10M603.19 1214.13h10m-5-5v10M601.47 1164.92h10m-5-5v10M614.6 1185.08h10m-5-5v10M710.88 1030.63h10m-5-5v10M689.48 1014.7h10m-5-5v10M794.57 1017.16h10m-5-5v10M723.6 1025.87h10m-5-5v10M720.1 1048.45h10m-5-5v10M724.58 1058.76h10m-5-5v10M748.51 983.72h10m-5-5v10M758.01 1024.13h10m-5-5v10M687.45 1060.58h10m-5-5v10M788.03 1025.87h10m-5-5v10M723.54 999.9h10m-5-5v10M770.68 1072.94h10m-5-5v10M884.57 879.4h10m-5-5v10M868.61 1042.12h10m-5-5v10M804.86 884.22h10m-5-5v10M817.68 1020.46h10m-5-5v10M773.02 1035.74h10m-5-5v10M838.06 975.07h10m-5-5v10M884.71 978.03h10m-5-5v10M850.63 1047.04h10m-5-5v10M856.29 919.87h10m-5-5v10M873.75 935.83h10m-5-5v10M780.12 979.58h10m-5-5v10M756.79 1003.99h10m-5-5v10M871.45 1027.63h10m-5-5v10M766.68 963.99h10m-5-5v10M864.36 1021.27h10m-5-5v10M855.81 1034.64h10m-5-5v10M862.88 945.21h10m-5-5v10M813.51 910.56h10m-5-5v10M870.27 984.83h10m-5-5v10M879.75 1003.05h10m-5-5v10M854.45 983.92h10m-5-5v10M858.08 944.76h10m-5-5v10M805.13 1010.81h10m-5-5v10M860.91 948.1h10m-5-5v10M807.87 1060.18h10m-5-5v10M802.24 1054.3h10m-5-5v10M827.68 1010.1h10m-5-5v10M857.96 1062.1h10m-5-5v10M757.36 963.55h10m-5-5v10M779.9 908.17h10m-5-5v10M829.32 982.48h10m-5-5v10M865.37 927.77h10m-5-5v10M810.78 970.56h10m-5-5v10M881.16 1023.61h10m-5-5v10M870.46 1053.49h10m-5-5v10M831 1043.64h10m-5-5v10M811.07 975.6h10m-5-5v10M834.9 968.3h10m-5-5v10M802.58 1000.77h10m-5-5v10M765.64 921.28h10m-5-5v10M839.25 984.78h10m-5-5v10M827.44 1014.56h10m-5-5v10M872.97 967.17h10m-5-5v10M771.93 1067.76h10m-5-5v10M817.8 1096.75h10m-5-5v10M876.41 1058.4h10m-5-5v10M828.43 927.81h10m-5-5v10M861.53 1002.14h10m-5-5v10M789.47 1028.8h10m-5-5v10M844.67 1018.09h10m-5-5v10M715.64 1038.91h10m-5-5v10M851.94 995.89h10m-5-5v10M856.83 1034.15h10m-5-5v10M871.04 1002.01h10m-5-5v10M838.85 939.02h10m-5-5v10M880.7 1026.31h10m-5-5v10M755.75 1048.5h10m-5-5v10M871.17 1057.51h10m-5-5v10M857.02 1015.12h10m-5-5v10M844.62 1015.22h10m-5-5v10M828.81 960.46h10m-5-5v10M862.77 1050.24h10m-5-5v10M855.92 924.43h10m-5-5v10M800.51 968.24h10m-5-5v10M766.77 908.56h10m-5-5v10M817.01 936.2h10m-5-5v10M740.27 990.45h10m-5-5v10M876.97 974.08h10m-5-5v10M884.44 927.44h10m-5-5v10M766.12 967.28h10m-5-5v10M838.62 944.83h10m-5-5v10M847.87 1007.46h10m-5-5v10M843.66 890.89h10m-5-5v10M883.11 1010.41h10m-5-5v10M865.41 984.82h10m-5-5v10M790.24 1064.38h10m-5-5v10"/><path d="M533.5 826.5h10m-5-5v10M626.5 881h10m-5-5v10M618.5 912.5h10m-5-5v10M609.5 950.5h10m-5-5v10M615.5 1026h10m-5-5v10M632.5 1091h10m-5-5v10M568.5 1115h10m-5-5v10M598 1154h10m-5-5v10M590.5 1195h10m-5-5v10M637 1192.5h10m-5-5v10M671 828h10m-5-5v10M652 970h10m-5-5v10M755 801.5h10m-5-5v10M810 821.5h10m-5-5v10M749.5 872h10m-5-5v10M764.5 894h10m-5-5v10M834.5 859h10m-5-5v10M852 885h10m-5-5v10M784.5 1206.5h10m-5-5v10M772 1123.5h10m-5-5v10M776 1079h10m-5-5v10M837 1095h10m-5-5v10M357 1205.5h10m-5-5v10M434 1209h10m-5-5v10M646.39 1208.09h10m-5-5v10M601.41 1205.19h10m-5-5v10M556.88 1214.13h10m-5-5v10M603.18 1208.77h10m-5-5v10M541.22 1211.35h10m-5-5v10M655.4 1206.49h10m-5-5v10M641.89 1214.43h10m-5-5v10M515.29 1209.42h10m-5-5v10M625.43 1211.64h10m-5-5v10M553.43 1212.93h10m-5-5v10M451.37 1211.32h10m-5-5v10M498.72 1204.13h10m-5-5v10M529.86 1198.8h10m-5-5v10M624.3 1212.31h10m-5-5v10M588.35 1189h10m-5-5v10M594.39 1176.8h10m-5-5v10M735.41 959.12h10m-5-5v10M765.68 1013.1h10m-5-5v10M706.31 955.63h10m-5-5v10M783.62 1002.67h10m-5-5v10M702.74 1030.53h10m-5-5v10M748.8 990.36h10m-5-5v10M733.65 1074.74h10m-5-5v10M688.72 1027.1h10m-5-5v10M696.7 1025.58h10m-5-5v10M695.54 1046.59h10m-5-5v10M788.09 992.38h10m-5-5v10M788.5 1028.73h10m-5-5v10M843.06 940.12h10m-5-5v10M866.95 993.19h10m-5-5v10M860.36 1000.71h10m-5-5v10M880.44 955.87h10m-5-5v10M818.11 910.28h10m-5-5v10M849.32 1026.73h10m-5-5v10M778.24 978.56h10m-5-5v10M878.96 940.75h10m-5-5v10M760.9 1021.36h10m-5-5v10M858.51 920.84h10m-5-5v10M817.95 917.53h10m-5-5v10M844.47 1001.69h10m-5-5v10M852.02 1061.61h10m-5-5v10M686.95 1011.39h10m-5-5v10M696.58 930.87h10m-5-5v10M771.52 943.92h10m-5-5v10M841.24 1003.25h10m-5-5v10M874.68 1027.3h10m-5-5v10M794.25 1045.7h10m-5-5v10M883.06 1011.09h10m-5-5v10M786.36 968.29h10m-5-5v10M825.84 1028.67h10m-5-5v10M868.99 972.21h10m-5-5v10M847.26 1054.56h10m-5-5v10M878.82 978.42h10m-5-5v10M865.36 1008.74h10m-5-5v10M874.51 922.21h10m-5-5v10M765.77 946.39h10m-5-5v10M807.68 971.13h10m-5-5v10M774.93 966.74h10m-5-5v10M874.19 1065.51h10m-5-5v10M871.64 901.82h10m-5-5v10M873.34 1037.5h10m-5-5v10M697.19 944.69h10m-5-5v10M868.31 1026.09h10m-5-5v10M864.24 919.93h10m-5-5v10M862.41 927.88h10m-5-5v10M722.18 991.84h10m-5-5v10M826.41 904.37h10m-5-5v10M853.92 893.8h10m-5-5v10M833.36 1060.36h10m-5-5v10M877.73 983.63h10m-5-5v10M699.15 965.74h10m-5-5v10M702.55 966.03h10m-5-5v10M882.66 938.98h10m-5-5v10M836.69 973.69h10m-5-5v10M801.98 987.81h10m-5-5v10M846.16 1009.85h10m-5-5v10M802.4 975.22h10m-5-5v10M861.78 989.08h10m-5-5v10M762.99 991.24h10m-5-5v10M856.02 901.89h10m-5-5v10M872.46 1062.27h10m-5-5v10M823.08 1064.92h10m-5-5v10M815.27 1065.5h10m-5-5v10M858.88 954.22h10m-5-5v10M771.62 997.24h10m-5-5v10M861.99 912.88h10m-5-5v10M878.49 1037.46h10m-5-5v10M864.76 986.47h10m-5-5v10M878.97 1040.22h10m-5-5v10M785.06 1055.86h10m-5-5v10M876.8 976.94h10m-5-5v10M807.75 893.17h10m-5-5v10M688.99 1053.93h10m-5-5v10M880.9 964.21h10m-5-5v10M857.81 1075.8h10m-5-5v10M854.79 905.42h10m-5-5v10M701.61 936.49h10m-5-5v10M768.1 956.75h10m-5-5v10M826.7 1012.02h10m-5-5v10M836.57 951.59h10m-5-5v10M750.63 1082.57h10m-5-5v10M845.27 1007.26h10m-5-5v10M865.59 988.85h10m-5-5v10M799.33 1036.63h10m-5-5v10"/><path d="M555 855.5h10m-5-5v10M559.5 895h10m-5-5v10M633 917h10m-5-5v10M539.5 952.5h10m-5-5v10M632.5 1023.5h10m-5-5v10M643.5 1049h10m-5-5v10M569.5 1135h10m-5-5v10M638 1160h10m-5-5v10M569.5 1190h10m-5-5v10M612 1192.5h10m-5-5v10M659.5 849h10m-5-5v10M662 972.5h10m-5-5v10M746 817h10m-5-5v10M758 861.5h10m-5-5v10M782 874h10m-5-5v10M778 896h10m-5-5v10M848 856.5h10m-5-5v10M864.5 874h10m-5-5v10M796 1197.5h10m-5-5v10M751 1116h10m-5-5v10M795.5 1105h10m-5-5v10M852 1109h10m-5-5v10M388.5 1202.5h10m-5-5v10M437.5 1211h10m-5-5v10M645.85 1211.97h10m-5-5v10M557.26 1213.19h10m-5-5v10M651.77 1200.54h10m-5-5v10M610.33 1215.83h10m-5-5v10M540.77 1207.7h10m-5-5v10M503.31 1203.22h10m-5-5v10M565.28 1210.9h10m-5-5v10M531.44 1215.71h10m-5-5v10M593.08 1213.02h10m-5-5v10M645.71 1212.54h10m-5-5v10M637.94 1204.49h10m-5-5v10M603.44 1210.29h10m-5-5v10M511 1198.14h10m-5-5v10M585.58 1176.18h10m-5-5v10M640.65 1161.64h10m-5-5v10M616.93 1177.03h10m-5-5v10M704.75 1007.17h10m-5-5v10M770.54 1012.34h10m-5-5v10M792.99 929.92h10m-5-5v10M715.25 1033.48h10m-5-5v10M788 990.47h10m-5-5v10M782.08 1119.71h10m-5-5v10M704.44 1024.52h10m-5-5v10M701.43 994.85h10m-5-5v10M724.29 1033.1h10m-5-5v10M755.2 1070.8h10m-5-5v10M765.69 1025.78h10m-5-5v10M874.72 998.2h10m-5-5v10M792.21 1039.24h10m-5-5v10M691.04 921.03h10m-5-5v10M879.57 1031.21h10m-5-5v10M771.01 1008.06h10m-5-5v10M878.1 1005.13h10m-5-5v10M856.47 986.05h10m-5-5v10M856.43 976.85h10m-5-5v10M883.29 938.53h10m-5-5v10M872.55 1026.8h10m-5-5v10M858.36 1061.7h10m-5-5v10M822.98 1021.18h10m-5-5v10M878.1 1028.35h10m-5-5v10M882.39 920.83h10m-5-5v10M851.61 1133.18h10m-5-5v10M776.67 929.68h10m-5-5v10M831.76 1037.24h10m-5-5v10M812.86 1053.67h10m-5-5v10M856.5 1049.41h10m-5-5v10M830.74 933.51h10m-5-5v10M705.39 1062.84h10m-5-5v10M848.23 1036.02h10m-5-5v10M882.26 1054.15h10m-5-5v10M788.63 924.36h10m-5-5v10M773.61 1051.92h10m-5-5v10M875.75 1017.45h10m-5-5v10M800.38 895.55h10m-5-5v10M818.44 959.73h10m-5-5v10M807.64 1048.03h10m-5-5v10M830.95 1012.22h10m-5-5v10M867.24 1048.17h10m-5-5v10M853.61 1002.46h10m-5-5v10M747.96 1056.87h10m-5-5v10M882.36 953.9h10m-5-5v10M825.02 1036.84h10m-5-5v10M749.96 1036.67h10m-5-5v10M863.81 1001.85h10m-5-5v10M878.12 1048.04h10m-5-5v10M875.04 1026.29h10m-5-5v10M849.86 1108.05h10m-5-5v10M845.46 913.89h10m-5-5v10M868.03 910.76h10m-5-5v10M876.2 979.63h10m-5-5v10M762.33 961.44h10m-5-5v10M817.9 984.83h10m-5-5v10M808.98 986.81h10m-5-5v10M833.87 914.44h10m-5-5v10M821.43 946.72h10m-5-5v10M877.25 1058.96h10m-5-5v10M875.88 1107.21h10m-5-5v10M852.48 1029.16h10m-5-5v10M869.69 1050.53h10m-5-5v10M835.09 957.77h10m-5-5v10M767.83 912.12h10m-5-5v10M817.2 964.18h10m-5-5v10M827.75 914.02h10m-5-5v10M872.56 910.21h10m-5-5v10M839.15 991.09h10m-5-5v10M833.88 962.75h10m-5-5v10M875.84 1037.68h10m-5-5v10M825.66 935.6h10m-5-5v10M859.06 911.85h10m-5-5v10M752.65 940.84h10m-5-5v10M882.23 921.03h10m-5-5v10M784.62 900.43h10m-5-5v10M806.18 1035.43h10m-5-5v10M869.93 916.62h10m-5-5v10M831.76 1038.43h10m-5-5v10M884.27 1078.66h10m-5-5v10M866.08 897.79h10m-5-5v10M831.33 1036.83h10m-5-5v10M873.03 1060.78h10m-5-5v10M846.31 1035.91h10m-5-5v10M773.32 1010.03h10m-5-5v10M853.83 965.03h10m-5-5v10M867.79 912.55h10m-5-5v10M851.67 1059.09h10m-5-5v10"/><path d="M485 869.5h10m-5-5v10M578 906.5h10m-5-5v10M594.5 925.5h10m-5-5v10M537 955.5h10m-5-5v10M578 1066.5h10m-5-5v10M641 1066.5h10m-5-5v10M578 1136.5h10m-5-5v10M565.5 1175h10m-5-5v10M542 1185h10m-5-5v10M604.5 1194h10m-5-5v10M662 848h10m-5-5v10M664.5 975h10m-5-5v10M725.5 825h10m-5-5v10M703 870h10m-5-5v10M732 886.5h10m-5-5v10M797 895h10m-5-5v10M817 885h10m-5-5v10M867 882.5h10m-5-5v10M792 1210h10m-5-5v10M764.5 1114h10m-5-5v10M802 1092.5h10m-5-5v10M857 1104h10m-5-5v10M371.5 1214h10m-5-5v10M447.5 1207.5h10m-5-5v10M575.02 1212.52h10m-5-5v10M623.87 1209.99h10m-5-5v10M544.9 1202.11h10m-5-5v10M609.06 1202.44h10m-5-5v10M597.39 1204.07h10m-5-5v10M630.78 1213.96h10m-5-5v10M543.87 1210.3h10m-5-5v10M607.38 1206.54h10m-5-5v10M569.26 1214.75h10m-5-5v10M562.62 1207.64h10m-5-5v10M571.1 1210.02h10m-5-5v10M516.56 1209.98h10m-5-5v10M583.37 1209.32h10m-5-5v10M635.66 1193.17h10m-5-5v10M615.49 1190.3h10m-5-5v10M622.12 1177.87h10m-5-5v10M699.13 1028.03h10m-5-5v10M740.43 1024.09h10m-5-5v10M785.76 1029.86h10m-5-5v10M740.24 1005.62h10m-5-5v10M703.56 952.01h10m-5-5v10M754.28 1098.09h10m-5-5v10M775.18 1013.05h10m-5-5v10M741.39 998.06h10m-5-5v10M749.8 1074.64h10m-5-5v10M729.21 977.01h10m-5-5v10M689.84 1107.17h10m-5-5v10M837.62 1033.71h10m-5-5v10M801.67 988.81h10m-5-5v10M858.31 1050.01h10m-5-5v10M874.54 911.46h10m-5-5v10M749.43 971.68h10m-5-5v10M848.07 937.41h10m-5-5v10M868.65 976.12h10m-5-5v10M862.64 1014.01h10m-5-5v10M729.91 958.62h10m-5-5v10M827.01 972.93h10m-5-5v10M797.59 1059.49h10m-5-5v10M725.14 992.3h10m-5-5v10M801.33 936.26h10m-5-5v10M783.01 880.6h10m-5-5v10M855.57 940.46h10m-5-5v10M875.72 1128.5h10m-5-5v10M855.65 980.57h10m-5-5v10M755.88 1036.23h10m-5-5v10M779.9 1047.17h10m-5-5v10M874.55 979.18h10m-5-5v10M837.12 1048.28h10m-5-5v10M861.78 919.84h10m-5-5v10M714.57 1006.84h10m-5-5v10M882.48 1075.69h10m-5-5v10M845.37 959.98h10m-5-5v10M866.41 996.6h10m-5-5v10M771.09 946.81h10m-5-5v10M781.62 1064.28h10m-5-5v10M848.21 1034.17h10m-5-5v10M870.01 1034.48h10m-5-5v10M740.04 975.45h10m-5-5v10M781.28 996.32h10m-5-5v10M723.73 996.47h10m-5-5v10M728.86 985.42h10m-5-5v10M865.1 976.27h10m-5-5v10M878.16 1046.66h10m-5-5v10M857.72 977.94h10m-5-5v10M881.03 986.08h10m-5-5v10M801.69 906.71h10m-5-5v10M857.64 1031.54h10m-5-5v10M800.99 1032.68h10m-5-5v10M865.68 1041.33h10m-5-5v10M863.03 963.18h10m-5-5v10M695.04 960.59h10m-5-5v10M880.19 980.33h10m-5-5v10M712 936.35h10m-5-5v10M875.56 963.33h10m-5-5v10M866.41 981.65h10m-5-5v10M795.1 951.3h10m-5-5v10M825.94 1059.55h10m-5-5v10M758.09 969.82h10m-5-5v10M884.28 990.73h10m-5-5v10M850.67 992.31h10m-5-5v10M734.31 1034.96h10m-5-5v10M781.19 1012.49h10m-5-5v10M873.58 1013.2h10m-5-5v10M728.09 953.36h10m-5-5v10M800.08 946.48h10m-5-5v10M880.46 1035.87h10m-5-5v10M775.49 954.05h10m-5-5v10M822.22 1043.92h10m-5-5v10M829.69 979.56h10m-5-5v10M882.99 1007.8h10m-5-5v10M870.21 958.87h10m-5-5v10M822.36 935.29h10m-5-5v10M844.61 1013.8h10m-5-5v10M802.76 934.15h10m-5-5v10M823.83 1025.55h10m-5-5v10M792 1017.07h10m-5-5v10M762.39 925.13h10m-5-5v10M866.67 991.07h10m-5-5v10M878.71 969.03h10m-5-5v10M727.99 944.16h10m-5-5v10M822.06 991.8h10m-5-5v10M834.42 961.57h10m-5-5v10M836.77 906.88h10m-5-5v10M829.53 1067.06h10m-5-5v10"/><path d="M594.5 874h10m-5-5v10M594.5 905h10m-5-5v10M592 933.5h10m-5-5v10M627 965h10m-5-5v10M574.5 1077.5h10m-5-5v10M648 1064h10m-5-5v10M562 1143.5h10m-5-5v10M593 1172.5h10m-5-5v10M632 1180h10m-5-5v10M644.5 821.5h10m-5-5v10M684.5 809h10m-5-5v10M652 992.5h10m-5-5v10M705.5 832.5h10m-5-5v10M717 872.5h10m-5-5v10M734.5 894h10m-5-5v10M807 898.5h10m-5-5v10M819.5 897.5h10m-5-5v10M874.5 880h10m-5-5v10M818.5 1209h10m-5-5v10M827 1132.5h10m-5-5v10M807 1091h10m-5-5v10M862 1085h10m-5-5v10M415 1207.5h10m-5-5v10M452.5 1211h10m-5-5v10M585.01 1212h10m-5-5v10M495.03 1212.2h10m-5-5v10M496.92 1209.24h10m-5-5v10M509.33 1212.84h10m-5-5v10M556.99 1198.62h10m-5-5v10M639.62 1210.35h10m-5-5v10M623.33 1212.88h10m-5-5v10M531.32 1209.78h10m-5-5v10M593.39 1214.04h10m-5-5v10M572.8 1200.47h10m-5-5v10M635.65 1211.96h10m-5-5v10M548.66 1200.19h10m-5-5v10M484.33 1209.8h10m-5-5v10M580.91 1168.73h10m-5-5v10M555.96 1193.53h10m-5-5v10M733.22 1077.21h10m-5-5v10M732.37 1059.42h10m-5-5v10M726.56 1044.59h10m-5-5v10M703.16 1045.96h10m-5-5v10M786.19 1032.68h10m-5-5v10M771.34 1060.05h10m-5-5v10M728.37 1033.79h10m-5-5v10M712.9 954.91h10m-5-5v10M783.51 1043.42h10m-5-5v10M707.46 994.3h10m-5-5v10M714.07 1079.54h10m-5-5v10M743.47 1001.75h10m-5-5v10M872.14 944.95h10m-5-5v10M846.62 1002.74h10m-5-5v10M818.26 1008.09h10m-5-5v10M707.83 917.54h10m-5-5v10M691.49 928.59h10m-5-5v10M862.75 956.67h10m-5-5v10M878.62 989.71h10m-5-5v10M838.78 1003.12h10m-5-5v10M740.68 972.74h10m-5-5v10M740.02 926.14h10m-5-5v10M877.82 1063.2h10m-5-5v10M792.36 932.54h10m-5-5v10M848.09 1000.53h10m-5-5v10M877.86 986.6h10m-5-5v10M850.81 965.41h10m-5-5v10M773.88 974.16h10m-5-5v10M865.41 925.16h10m-5-5v10M726.72 1071.93h10m-5-5v10M822.19 1089.97h10m-5-5v10M761.89 990.32h10m-5-5v10M882.69 1001.17h10m-5-5v10M863.76 1061.67h10m-5-5v10M780.75 930.12h10m-5-5v10M854.16 935.46h10m-5-5v10M824.94 1066.94h10m-5-5v10M785.35 1041h10m-5-5v10M797.41 1041.95h10m-5-5v10M782.13 943.58h10m-5-5v10M738.66 1037.15h10m-5-5v10M822.44 973.5h10m-5-5v10M825.37 926.27h10m-5-5v10M750.29 991.12h10m-5-5v10M851.06 1058.96h10m-5-5v10M763.37 1029.04h10m-5-5v10M872.63 917.76h10m-5-5v10M761.27 971.25h10m-5-5v10M859.35 1134.28h10m-5-5v10M861.72 1114.33h10m-5-5v10M878.87 978.72h10m-5-5v10M751.08 895.67h10m-5-5v10M750.6 1016.04h10m-5-5v10M882.95 1013.92h10m-5-5v10M875.13 1041.97h10m-5-5v10M857.66 1062.75h10m-5-5v10M883.59 1060.76h10m-5-5v10M835.78 1057.5h10m-5-5v10M862.21 908.2h10m-5-5v10M752.37 989.3h10m-5-5v10M855.88 999.62h10m-5-5v10M828.15 1028.58h10m-5-5v10M871.36 918.08h10m-5-5v10M838.91 1000.8h10m-5-5v10M743.03 912.86h10m-5-5v10M738.23 920.06h10m-5-5v10M884.74 1038.69h10m-5-5v10M872.47 1035.4h10m-5-5v10M844.96 902.46h10m-5-5v10M745.51 1030.15h10m-5-5v10M856.01 926.08h10m-5-5v10M799.12 1058.8h10m-5-5v10M876.22 986.87h10m-5-5v10M861.39 946.85h10m-5-5v10M855.99 1007.02h10m-5-5v10M882.32 1003.43h10m-5-5v10M877.1 1026.47h10m-5-5v10M847.53 1053.57h10m-5-5v10M866.46 969.99h10m-5-5v10M765.82 943.06h10m-5-5v10M829.44 977.58h10m-5-5v10M816.9 910.43h10m-5-5v10M818.71 1027.62h10m-5-5v10M870.81 960.28h10m-5-5v10M845.77 953.22h10m-5-5v10M841.09 944.78h10m-5-5v10M876.87 1046.97h10m-5-5v10M849.87 969.04h10m-5-5v10M881.03 957.42h10m-5-5v10"/><path d="M565.5 883.5h10m-5-5v10M601 902.5h10m-5-5v10M607 935h10m-5-5v10M623 979h10m-5-5v10M586 1086h10m-5-5v10M618 1103h10m-5-5v10M615.5 1135h10m-5-5v10M582 1180h10m-5-5v10M629.5 1187.5h10m-5-5v10M649.5 830h10m-5-5v10M678 881h10m-5-5v10M703 801.5h10m-5-5v10M758 839h10m-5-5v10M725.5 871h10m-5-5v10M691 898.5h10m-5-5v10M815.5 870h10m-5-5v10M837 882.5h10m-5-5v10M752 1182.5h10m-5-5v10M851 1210h10m-5-5v10M851 1135h10m-5-5v10M818 1082.5h10m-5-5v10M869.5 1090h10m-5-5v10M421 1206h10m-5-5v10M460 1206h10m-5-5v10M626.3 1214.06h10m-5-5v10M541.19 1204.93h10m-5-5v10M614.9 1211.32h10m-5-5v10M595.78 1211.09h10m-5-5v10M587.1 1202.7h10m-5-5v10M508.73 1214.54h10m-5-5v10M599.88 1214.89h10m-5-5v10M610.87 1215.55h10m-5-5v10M521.4 1213.65h10m-5-5v10M563.8 1198.21h10m-5-5v10M461.01 1214.99h10m-5-5v10M505.43 1213.89h10m-5-5v10M638.27 1212.9h10m-5-5v10M602.86 1180.72h10m-5-5v10M571.83 1183.98h10m-5-5v10M738.85 1032.72h10m-5-5v10M741.12 1047.36h10m-5-5v10M779.28 1018.75h10m-5-5v10M692.21 939.77h10m-5-5v10M740.66 1053.67h10m-5-5v10M755 1055.93h10m-5-5v10M793.95 996.52h10m-5-5v10M749.45 941.1h10m-5-5v10M756.84 1045.13h10m-5-5v10M699.82 994.71h10m-5-5v10M746.86 1028.95h10m-5-5v10M691.42 1040.59h10m-5-5v10M881.67 1010.83h10m-5-5v10M835.37 1004.07h10m-5-5v10M842.53 1115.7h10m-5-5v10M883.05 1012.82h10m-5-5v10M877.04 1039.66h10m-5-5v10M859.08 1046.94h10m-5-5v10M869.88 991.13h10m-5-5v10M804.97 942.46h10m-5-5v10M834.19 989.9h10m-5-5v10M860.96 1038.95h10m-5-5v10M870.37 911.49h10m-5-5v10M799.18 1004.35h10m-5-5v10M849.72 1053.92h10m-5-5v10M800.36 1003.59h10m-5-5v10M848.44 953.92h10m-5-5v10M829.68 1059.75h10m-5-5v10M884.82 1055.59h10m-5-5v10M817.81 894.99h10m-5-5v10M811.03 1019.69h10m-5-5v10M811.67 936.45h10m-5-5v10M857.3 1039.58h10m-5-5v10M813.78 1035.12h10m-5-5v10M821.61 1001.44h10m-5-5v10M781.53 937.63h10m-5-5v10M849.37 1004.5h10m-5-5v10M797.34 1001.75h10m-5-5v10M840.37 956.59h10m-5-5v10M880.81 950.02h10m-5-5v10M773.11 937.62h10m-5-5v10M869.5 1022.95h10m-5-5v10M871.65 955.77h10m-5-5v10M787.33 1064h10m-5-5v10M865.08 1003.83h10m-5-5v10M802.15 1063.48h10m-5-5v10M809.15 1017.08h10m-5-5v10M868.21 1016.47h10m-5-5v10M881.08 1115.61h10m-5-5v10M857.07 893.33h10m-5-5v10M863.56 998.95h10m-5-5v10M841.62 983.42h10m-5-5v10M852.82 1119.77h10m-5-5v10M870.46 996.7h10m-5-5v10M874.33 1022.16h10m-5-5v10M775.68 1032.08h10m-5-5v10M784.59 1015.9h10m-5-5v10M862.29 1005.02h10m-5-5v10M832.05 891.36h10m-5-5v10M839.7 1063.84h10m-5-5v10M757.9 874.02h10m-5-5v10M746.87 958.66h10m-5-5v10M827.6 908.21h10m-5-5v10M836.18 1011.54h10m-5-5v10M819.36 994.29h10m-5-5v10M862.06 980.35h10m-5-5v10M825.88 927.02h10m-5-5v10M821.39 1007.97h10m-5-5v10M881.99 1024.06h10m-5-5v10M866.31 955h10m-5-5v10M862.66 899.04h10m-5-5v10M869.37 937.76h10m-5-5v10M863.88 911.21h10m-5-5v10M867.8 1016.99h10m-5-5v10M804.5 1039.48h10m-5-5v10M871.73 878.01h10m-5-5v10M792.25 1013.18h10m-5-5v10M803.72 981.81h10m-5-5v10M700.99 944.79h10m-5-5v10M870.29 970.51h10m-5-5v10M846.84 986.95h10m-5-5v10M709.91 1028.74h10m-5-5v10M803.08 1064.91h10m-5-5v10M884.81 1063.64h10m-5-5v10M870.43 949h10m-5-5v10M856.81 964.87h10m-5-5v10M831.78 1042.16h10m-5-5v10M751.59 1016.63h10m-5-5v10M883.98 929.87h10m-5-5v10"/></g></g>
<g clip-path="url(#c2)"><g fill="none" stroke="#ff0000" stroke-opacity="0.85" stroke-width="2"><path d="M504.5 1307.5h10m-5-5v10M702.5 1374h10m-5-5v10M699.5 1414h10m-5-5v10M776 1428.5h10m-5-5v10M687.5 1479h10m-5-5v10M718 1507.5h10m-5-5v10M717 1539h10m-5-5v10M623.5 1557h10m-5-5v10M722 1562h10m-5-5v10M649.5 1583.5h10m-5-5v10M568.5 1590h10m-5-5v10M668 1612.5h10m-5-5v10M623.5 1626h10m-5-5v10M743.5 1664h10m-5-5v10M810.5 1736h10m-5-5v10M829.5 1748.5h10m-5-5v10M469.5 1744h10m-5-5v10M443.5 1739h10m-5-5v10M356 1749h10m-5-5v10M417.5 1748h10m-5-5v10M780.94 1452.53h10m-5-5v10M731.67 1468.39h10m-5-5v10M844.92 1483.76h10m-5-5v10M859.95 1489.61h10m-5-5v10M769.75 1499.3h10m-5-5v10M786.79 1512.66h10m-5-5v10M863.62 1517.67h10m-5-5v10M882.83 1524.35h10m-5-5v10M795.98 1545.23h10m-5-5v10M876.99 1544.39h10m-5-5v10M768.42 1553.58h10m-5-5v10M839.4 1553.91h10m-5-5v10M786.79 1561.93h10m-5-5v10M876.99 1566.11h10m-5-5v10M873.64 1576.13h10m-5-5v10M804.66 1582.81h10m-5-5v10M740.86 1588.32h10m-5-5v10M735.01 1601.68h10m-5-5v10M838.9 1614.54h10m-5-5v10"/><path d="M597.5 1302h10m-5-5v10M693.5 1392.5h10m-5-5v10M732 1417.5h10m-5-5v10M702.5 1434.5h10m-5-5v10M722 1481.5h10m-5-5v10M583.5 1514h10m-5-5v10M688 1539h10m-5-5v10M644.5 1560h10m-5-5v10M638 1570h10m-5-5v10M651 1585h10m-5-5v10M534.5 1601h10m-5-5v10M594.5 1616.5h10m-5-5v10M699.5 1613.5h10m-5-5v10M671 1670h10m-5-5v10M679.5 1748.5h10m-5-5v10M834.5 1748.5h10m-5-5v10M487 1744h10m-5-5v10M459 1737.5h10m-5-5v10M187.5 1750h10m-5-5v10M430 1749h10m-5-5v10M813.01 1454.7h10m-5-5v10M798.82 1470.9h10m-5-5v10M813.01 1489.61h10m-5-5v10M863.62 1494.28h10m-5-5v10M775.43 1498.79h10m-5-5v10M859.95 1508.48h10m-5-5v10M868.63 1517.67h10m-5-5v10M807.67 1527.69h10m-5-5v10M816.02 1539.72h10m-5-5v10M882.83 1545.23h10m-5-5v10M773.43 1551.58h10m-5-5v10M801.82 1556.92h10m-5-5v10M790.13 1566.94h10m-5-5v10M882.83 1570.28h10m-5-5v10M733.34 1573.62h10m-5-5v10M818.53 1583.31h10m-5-5v10M748.71 1591.66h10m-5-5v10M859.95 1591.16h10m-5-5v10M748.71 1617.89h10m-5-5v10"/><path d="M618.5 1311h10m-5-5v10M722.5 1391.5h10m-5-5v10M760.5 1417h10m-5-5v10M787 1438.5h10m-5-5v10M667 1487h10m-5-5v10M618.5 1513h10m-5-5v10M707 1543.5h10m-5-5v10M662 1562.5h10m-5-5v10M648 1569h10m-5-5v10M684.5 1583h10m-5-5v10M580.5 1603h10m-5-5v10M595.5 1624h10m-5-5v10M504.5 1627.5h10m-5-5v10M568.5 1679h10m-5-5v10M692 1749h10m-5-5v10M842 1748.5h10m-5-5v10M437.5 1715h10m-5-5v10M325 1740h10m-5-5v10M111 1561.5h10m-5-5v10M437.5 1748h10m-5-5v10M827.71 1455.87h10m-5-5v10M809.84 1470.57h10m-5-5v10M827.71 1492.95h10m-5-5v10M856.94 1498.79h10m-5-5v10M778.1 1503.47h10m-5-5v10M865.29 1509.32h10m-5-5v10M851.1 1521.84h10m-5-5v10M783.78 1531.53h10m-5-5v10M813.01 1543.89h10m-5-5v10M769.75 1544.89h10m-5-5v10M748.71 1552.74h10m-5-5v10M818.53 1559.43h10m-5-5v10M801.82 1565.27h10m-5-5v10M851.1 1568.61h10m-5-5v10M744.2 1573.62h10m-5-5v10M760.9 1586.65h10m-5-5v10M730 1591.16h10m-5-5v10M862.79 1591.16h10m-5-5v10M751.71 1631.75h10m-5-5v10"/><path d="M594 1373h10m-5-5v10M773 1393h10m-5-5v10M816 1414h10m-5-5v10M871 1430.5h10m-5-5v10M639 1488h10m-5-5v10M709 1515h10m-5-5v10M704.5 1545h10m-5-5v10M705 1558h10m-5-5v10M473 1583h10m-5-5v10M696.5 1581h10m-5-5v10M677 1593h10m-5-5v10M587 1629h10m-5-5v10M531 1649h10m-5-5v10M787 1689h10m-5-5v10M777 1749h10m-5-5v10M874.5 1748.5h10m-5-5v10M441 1726.5h10m-5-5v10M339 1743.5h10m-5-5v10M395 1749h10m-5-5v10M760.9 1444.18h10m-5-5v10M873.98 1454.7h10m-5-5v10M813.01 1472.57h10m-5-5v10M793.14 1492.61h10m-5-5v10M880.33 1489.61h10m-5-5v10M731.67 1508.48h10m-5-5v10M871.14 1508.48h10m-5-5v10M860.28 1526.52h10m-5-5v10M795.98 1536.04h10m-5-5v10M836.9 1534.87h10m-5-5v10M757.56 1550.24h10m-5-5v10M824.87 1549.9h10m-5-5v10M740.86 1563.6h10m-5-5v10M809.84 1567.28h10m-5-5v10M845.25 1578.63h10m-5-5v10M735.01 1578.63h10m-5-5v10M769.75 1584.48h10m-5-5v10M772.59 1595.67h10m-5-5v10M873.98 1592.83h10m-5-5v10M809.84 1639.6h10m-5-5v10"/><path d="M667 1372h10m-5-5v10M650.5 1408h10m-5-5v10M842 1420h10m-5-5v10M677 1461.5h10m-5-5v10M642.5 1490.5h10m-5-5v10M699.5 1523h10m-5-5v10M645 1548.5h10m-5-5v10M709.5 1566h10m-5-5v10M498.5 1575h10m-5-5v10M729.5 1590h10m-5-5v10M697 1597.5h10m-5-5v10M578 1631h10m-5-5v10M647.5 1657.5h10m-5-5v10M802 1701h10m-5-5v10M792 1749h10m-5-5v10M467 1735h10m-5-5v10M452.5 1730h10m-5-5v10M360 1740h10m-5-5v10M406 1749h10m-5-5v10M801.82 1444.18h10m-5-5v10M836.9 1464.22h10m-5-5v10M836.9 1472.57h10m-5-5v10M798.82 1495.62h10m-5-5v10M743.86 1500.46h10m-5-5v10M743.86 1511.82h10m-5-5v10M882.83 1505.98h10m-5-5v10M866.96 1526.85h10m-5-5v10M795.98 1540.22h10m-5-5v10M863.62 1538.88h10m-5-5v10M760.9 1551.91h10m-5-5v10M831.05 1556.92h10m-5-5v10M751.71 1560.59h10m-5-5v10M809.84 1571.12h10m-5-5v10M851.1 1578.63h10m-5-5v10M757.56 1577.8h10m-5-5v10M780.94 1588.32h10m-5-5v10M824.87 1595.67h10m-5-5v10M833.89 1605.02h10m-5-5v10"/><path d="M667 1379h10m-5-5v10M463 1410h10m-5-5v10M757 1429h10m-5-5v10M607 1471h10m-5-5v10M630 1497h10m-5-5v10M712 1527.5h10m-5-5v10M658.5 1551.5h10m-5-5v10M719.5 1561h10m-5-5v10M543 1580h10m-5-5v10M531 1590h10m-5-5v10M667 1605h10m-5-5v10M565.5 1635h10m-5-5v10M705.5 1661h10m-5-5v10M644.5 1732.5h10m-5-5v10M798 1749h10m-5-5v10M462 1740h10m-5-5v10M455 1735h10m-5-5v10M350 1749h10m-5-5v10M412.5 1749h10m-5-5v10M876.99 1442.51h10m-5-5v10M845.25 1465.89h10m-5-5v10M755.05 1479.25h10m-5-5v10M813.01 1499.3h10m-5-5v10M755.05 1500.46h10m-5-5v10M783.78 1513.49h10m-5-5v10M881.16 1512.66h10m-5-5v10M871.14 1530.2h10m-5-5v10M786.79 1542.72h10m-5-5v10M873.64 1540.22h10m-5-5v10M765.08 1552.74h10m-5-5v10M834.39 1556.08h10m-5-5v10M778.1 1564.44h10m-5-5v10M879.49 1561.1h10m-5-5v10M871.97 1575.29h10m-5-5v10M786.79 1578.63h10m-5-5v10M789.8 1591.66h10m-5-5v10M836.9 1597.01h10m-5-5v10M839.4 1605.69h10m-5-5v10"/></g></g>
<g clip-path="url(#c0)"><path d="M319.4 208.3L319.4 216L320.7 211.2L326 211.5L327.2 211L329.1 224.4L330.8 223.1L330.8 236.1L332.4 240L333.4 245.2L336 248.4L336.5 256.8L337.6 255.5L337.6 342.3L338.2 347.5L338.5 373.4L339.5 373.4L338.6 401.9L340.2 417.4L341.5 427.8L342.5 440L343.9 467L345.6 476.4L346.6 496.7L347.2 548L348.3 575L348.9 635.7L349.9 674.8L350.5 640L351 680L351.3 610L351.8 682.2L352.2 600L352.6 678L353 612L353.4 682.2L353.8 625L354.2 672L354.7 680.2L354.7 690L356.7 629L357.4 588.4L357.8 548L357.8 456L358 440L359.6 430L360.2 409.7L363.1 405.8L363.5 391.5L366.1 385L366.1 373.4L364.1 369.5L366.7 366.9L366.7 321.6L367.4 319L367.4 256.8L369.3 245.2L371.2 240L370.3 228.3L372.5 229.6L374.5 224.4L375.8 219.2L377.7 208.3" fill="none" stroke="#0000ff" stroke-width="1.5" stroke-linejoin="round"/><path d="M343.4 210.3V682.2" fill="none" stroke="#0000ff" stroke-width="2.1" stroke-dasharray="7.7 3.3"/><path d="M359.7 210.3V682.2" fill="none" stroke="#0000ff" stroke-width="2.1" stroke-dasharray="7.7 3.3"/><path d="M115.5 663.3H351.8V492.6H890.5M351.8 551.7H890.5" fill="none" stroke="#0000ff" stroke-width="2.1" stroke-linejoin="miter"/></g>
<g clip-path="url(#c1)"><path d="M115.5 744.2L629.4 744.2L635.9 745.8L640.5 749.7L641.7 747.1L641.7 764.6L644 753L644.3 764.6L647.6 767.9L646.9 795.7L648.5 799.6L648.9 812.6L651.2 812.6L648.9 835.9L651.5 825.5L652.1 835.9L654.7 825.5L654.1 848.8L656 850.1L655.4 869.6L657.3 870.9L657.7 965.5L658.2 980L658.2 1038.8L659.5 1038.8L661.6 1052.6L663 1066.3L663.7 1102.1L665.7 1118.6L667.1 1077.3L667.8 1187.4L669.9 1165.4L669.2 1216.3L670.3 1150L670.8 1216.3L671.2 1176.4L672.6 1091.1L674 1155.8L676.1 1142L676.7 1121.4L677.4 1041.6L678.8 1041.6L678.8 1005.8L681.6 1027.8L684.3 1014L684.3 980L685.8 970L684.5 953.8L685.8 952.5L685.8 874.8L687.1 869.6L687.7 856.6L689 825.5L691 847.6L691.6 825.5L692.9 843.7L694.2 825.5L696.2 838.5L695.5 812.6L696.2 785.4L696.8 769.8L698.8 774.3L699.4 762L700.7 769.8L702 759.4L702.7 767.9L703.9 756.8L705.9 764.6L705.2 754.3L706.5 749.7L709.8 747.8L713.7 745.8L722.1 745.2L723.4 748.4L723.4 744.2L890.5 744.2" fill="none" stroke="#0000ff" stroke-width="1.5" stroke-linejoin="round"/><path d="M660.3 744.2V1216.3" fill="none" stroke="#0000ff" stroke-width="2.1" stroke-dasharray="7.7 3.3"/><path d="M683.3 744.2V1216.3" fill="none" stroke="#0000ff" stroke-width="2.1" stroke-dasharray="7.7 3.3"/><path d="M115.5 1207.6H670.6V978.3H890.5M670.6 1033.7H890.5" fill="none" stroke="#0000ff" stroke-width="2.1" stroke-linejoin="miter"/></g>
<g clip-path="url(#c2)"><path d="M115.5 1278.3L457.3 1278.3L460.24 1284.45L462.16 1279.64L464.54 1285.13L466.02 1287.34L465.6 1288.32L467.03 1296.06L466.05 1294.92L466.98 1300.83L468.07 1300.35L467.42 1293.45L468.43 1292.67L467.67 1285.38L468.91 1285.42L469.85 1290.48L469.43 1290.53L471.31 1299.04L470.83 1298.91L470.62 1293.61L472.46 1295.86L471.38 1287.43L473.09 1289.2L472.76 1283.49L472.49 1285.19L473.72 1292.37L472.25 1289.69L473.88 1298.36L472.58 1296.27L474.22 1304.99L473.27 1304.2L473.73 1308.54L474.76 1314.6L473.52 1312.29L474.94 1319.74L474.38 1319.94L475.8 1327.39L474.56 1325.11L476.18 1333.29L475.65 1333.6L475.16 1326.91L477.19 1329.47L475.9 1319.86L477.75 1321.75L477.58 1316.25L476.62 1316.25L477.89 1324.46L476.25 1321.98L477.91 1331.59L476.54 1330.1L477.13 1335.81L476.62 1337.45L477.63 1338.75L479.51 1343.23L480.44 1349.97L478.93 1347.71L480.22 1355.74L479.02 1354.65L480.14 1362.06L478.96 1361.05L479.51 1366.36L480.42 1364.81L479.6 1356.92L481.34 1358.45L480.15 1349.2L481.43 1349.01L482.18 1354.8L480.52 1351.77L482.3 1361.33L480.48 1357.72L482.17 1366.98L481.04 1365.86L482.3 1373.55L480.5 1369.99L482.33 1379.76L480.76 1377.07L482.2 1385.39L481.43 1385.63L481.39 1387.14L483.05 1394.9L481.92 1392.41L483.46 1399.72L483.36 1401.05L485.29 1397.19L484.89 1399.06L486.02 1406.52L484.13 1402.95L485.37 1410.8L484.12 1409.58L485.45 1417.76L484.43 1417.35L485.23 1423.64L483.88 1421.99L485.49 1431.23L484.23 1429.95L485.18 1436.76L484.09 1436.11L485.11 1443.19L483.77 1441.57L485.09 1449.75L483.19 1446.14L484.7 1455L483.05 1452.26L483.94 1458.86L484.6 1457.65L483.93 1451.56L485.13 1452.31L484.29 1445.61L485.19 1445.26L484.37 1438.63L485.79 1440.22L484.87 1433.19L485.74 1432.77L484.72 1425.38L486.26 1427.38L484.99 1419.1L486.98 1422.76L486.25 1416.46L485.76 1417.52L486.95 1424.74L485.77 1423.25L487.18 1431.28L485.82 1429.15L487.22 1437.15L485.9 1435.18L487.58 1444.18L486.08 1441.54L487.34 1449.01L486.04 1447.1L487.31 1454.62L486.42 1454.22L487.91 1462.53L486.37 1459.77L487.72 1467.56L486.82 1467.11L487.73 1473.31L487.22 1474.28L486.6 1468.71L487.65 1469.22L486.71 1462.45L488.19 1464.56L487.21 1457.66L488.31 1458.38L487.06 1450.49L488.47 1452.34L487.27 1444.6L488.62 1446.24L487.14 1437.49L488.29 1438.39L487.72 1432.99L488.86 1433.83L488.18 1428.03L487.33 1427.75L488.81 1436.01L487.85 1435.31L489.22 1443.16L488.11 1441.95L489.24 1448.9L488.29 1448.27L489.42 1455.22L488.28 1453.88L489.54 1461.36L489.14 1462.72L489.28 1456.88L490.49 1455.01L491.3 1461.1L490.19 1460.15L491.16 1466.86L489.71 1464.67L490.99 1472.48L490.05 1472.19L491.32 1479.96L490.49 1480.06L492.03 1483.91L491.75 1485.27L492.77 1491.44L491.93 1490.8L493.43 1498.7L492.48 1497.62L493.5 1503.78L492.65 1503.06L494.17 1511.05L492.9 1508.81L494.5 1517.11L493.4 1515.48L493.96 1519.95L494.42 1524.86L493.13 1523.35L494.69 1532.27L493.17 1529.89L494.15 1536.69L493.29 1536.76L494.25 1543.5L493.14 1542.64L494.33 1550.23L492.6 1547.09L493.81 1554.75L492.88 1554.52L494.13 1562.34L492.53 1559.68L494.03 1568.39L492.63 1566.46L493.47 1572.77L492.56 1572.65L493 1577.45L495.26 1577.57L495.89 1571.67L495.31 1573.05L496.19 1579.79L495 1578.9L496.03 1586.18L494.79 1585.13L496.15 1593.62L494.75 1591.96L495.32 1597.58L494 1596.23L495.7 1605.94L493.76 1602.33L495.18 1611.05L493.57 1608.63L495.3 1618.48L493.84 1616.64L494.96 1624.24L493.22 1621.33L493.96 1627.56L495.06 1627.11L494.05 1618.96L495.53 1619.93L494.89 1613.13L496.21 1613.51L495.79 1607.54L497.17 1608.14L496.85 1602.5L496.49 1604.11L497.92 1612.3L496.89 1611.45L498.23 1619.28L496.7 1616.6L498.48 1626.07L496.8 1622.85L497.81 1629.48L498.95 1629.62L497.62 1620.74L498.83 1621.18L497.99 1614.06L499.42 1615.3L498.77 1608.9L500.23 1610.25L499.74 1604.43L499.32 1605.29L500.74 1612.93L499.47 1610.7L501.3 1619.84L500.3 1618.59L501.48 1625.38L500.37 1623.73L502.06 1632.36L501.67 1633.34L501.34 1633.57L503.16 1641.68L502.69 1641.43L504.24 1648.56L503.24 1646.33L504.56 1652.61L504.89 1657.46L503.6 1656.35L505.25 1666.05L503.44 1663.06L505.04 1672.56L503.83 1671.77L504.76 1678.82L503.98 1679.59L503.39 1673.41L504.86 1674.77L504.35 1668.87L505.56 1669.32L504.73 1662.25L506.22 1663.7L505.32 1656.38L507.02 1658.58L506.49 1652.61L506.2 1654.6L506.81 1659.9L506.11 1660.39L506.86 1666.18L506.15 1666.64L507.43 1674.37L505.62 1670.81L506.83 1678.29L505.86 1677.78L506.99 1684.96L505.99 1684.34L506.49 1689.23L508.41 1689.23L508.89 1694.18L507.59 1692.65L508.95 1700.83L507.69 1699.42L508.59 1705.93L507.62 1705.57L508.45 1711.83L507.37 1711.08L508.75 1719.36L507.39 1717.59L508.23 1723.87L507.43 1724.15L508.33 1730.66L507.05 1729.17L508.51 1737.74L507.1 1735.8L508.42 1743.85L506.84 1741.27L508.08 1749.01L507.45 1749.93L507.04 1744.81L508.33 1745.91L507.08 1737.7L508.53 1739.43L507.34 1731.43L508.82 1733.24L507.9 1726.24L509.13 1727.13L507.85 1718.83L509.07 1719.69L508.29 1713.2L509.57 1714.26L508.24 1705.79L510.17 1709.23L509.38 1702.72L509 1703.95L510.59 1712.41L509.04 1709.35L510.48 1717.27L509.58 1716.58L510.71 1723.35L509.67 1722.14L511.4 1731.1L509.94 1728.38L511.8 1737.84L510.41 1735.35L511.3 1741.26L512.15 1741.04L510.77 1732.65L511.85 1733.32L510.88 1726.42L511.92 1726.91L511.31 1721.35L512.56 1722.64L511.5 1715.43L512.23 1714.79L511.59 1709.12L512.89 1710.57L511.67 1702.76L512.44 1702.29L511.35 1694.96L512.27 1695.01L513.02 1692.89L512.18 1684.93L514.17 1687.32L512.96 1678.01L514.2 1677.66L515.26 1684.09L513.79 1681.24L515.43 1689.77L514.43 1688.63L515.69 1695.75L514.39 1693.52L515.16 1698.86L516.07 1698.51L515.07 1691.21L516.36 1692.26L514.79 1682.84L516.18 1684.24L515.48 1678.01L516.79 1679.14L515.42 1670.44L516.85 1672.02L516.13 1665.7L517.13 1665.71L516.11 1658.29L517.74 1660.62L517.09 1654.54L516.49 1655.58L517.53 1662.63L516.4 1661.7L517.43 1668.72L516.3 1667.78L517.17 1674.19L516.16 1673.71L517.68 1682.52L516.13 1680.06L517.44 1688.09L516.21 1686.81L517.31 1694.09L515.72 1691.47L517.21 1700.18L515.79 1698.2L517 1705.84L515.62 1704.02L517.19 1712.99L515.87 1711.37L516.56 1717.15L515.38 1716.02L516.12 1721.99L519.01 1725.84L519.96 1726.14L518.46 1717.48L519.72 1718.94L518.41 1710.95L519.64 1712.27L518.8 1706.03L519.73 1706.27L518.67 1699.21L519.89 1700.53L518.99 1694.05L520.23 1695.42L518.59 1686.24L520.04 1688.41L518.84 1680.82L520.21 1682.67L518.82 1674.42L520.41 1677.06L519.3 1669.83L520.24 1670.12L519.55 1664.4L520.5 1664.73L519.39 1657.48L519.98 1656.46L520.42 1654.94L519.52 1648.51L520.6 1649.29L519.32 1641.47L520.55 1642.84L519.25 1634.93L520.86 1637.66L519.59 1629.88L520.93 1631.62L519.51 1623.29L521.24 1626.47L519.78 1617.96L521.09 1619.62L519.74 1611.54L521.42 1614.54L520.04 1606.32L521.41 1608.22L519.74 1598.93L521.31 1601.55L520.31 1594.71L521.23 1594.96L520.05 1587.5L521.61 1590.04L519.97 1580.89L520.94 1581.3L521.84 1587.47L520.57 1585.66L521.47 1591.85L520.63 1591.64L521.55 1597.85L520.41 1596.55L522.08 1605.52L520.36 1602.08L521.75 1610.05L520.46 1608.18L521.86 1616.2L520.83 1615.28L522.22 1623.24L521.13 1622.13L521.87 1627.68L520.71 1626.3L522.08 1634.19L521.11 1633.48L522.35 1640.91L520.97 1638.71L522.04 1645.51L521.28 1645.56L522.41 1652.58L521.25 1651.2L521.9 1656.46L522.36 1654.96L521.27 1647.82L522.91 1650.65L521.46 1642.15L522.69 1643.5L521.69 1636.68L522.56 1636.69L521.38 1629.18L522.5 1630.14L521.28 1622.49L523.09 1625.96L521.86 1618.29L523.16 1619.89L521.73 1611.46L523.1 1613.33L521.52 1604.37L522.83 1606.01L521.63 1598.43L523.13 1600.74L521.6 1591.96L522.92 1593.64L521.68 1585.94L523.44 1589.21L521.79 1580L523.2 1582.02L522.22 1575.23L523.23 1575.76L522.11 1568.5L523.43 1570.17L521.94 1561.54L523.38 1563.65L522.33 1556.62L523.49 1557.7L522.08 1549.37L523.22 1550.4L521.96 1542.59L522.87 1542.76L523.73 1548.6L522.77 1547.73L524.19 1555.61L523.04 1554.02L524.07 1560.46L522.92 1558.93L524.52 1567.45L523.31 1565.67L524.83 1573.91L523.65 1572.24L524.88 1579.41L524.11 1579.26L524.99 1585.15L524.79 1587.09L524.09 1581.26L525.71 1583.98L524.32 1575.66L525.82 1577.92L524.57 1570.09L525.62 1570.73L524.67 1564.01L526.15 1566.2L525.02 1558.83L526.02 1559.27L525 1552.3L526.32 1553.9L525.05 1546.01L526.15 1546.81L525.14 1539.87L525.76 1538.91L526.57 1544.35L525.27 1542.05L526.77 1549.99L525.54 1547.97L526.92 1555.5L526.25 1555.49L527.24 1561.57L526.68 1561.98L528.02 1569.34L526.59 1566.57L527.94 1573.98L527.69 1575.52L528.65 1579.38L528.29 1574.8L529.32 1575.36L528.02 1567.34L529.7 1570.24L528.13 1561.22L529.66 1563.58L528.64 1556.6L529.63 1557L528.71 1550.38L529.83 1551.22L528.57 1543.36L529.72 1544.32L528.89 1538.04L530.21 1539.64L529.14 1532.48L530.33 1533.59L528.67 1524.25L529.61 1524.45L531.02 1524.24L530.03 1515.23L531.72 1516.03L531.54 1510L531.18 1510.82L532.9 1519.25L532.5 1519.95L531.59 1513.44L533.31 1516.59L532.1 1509L533.49 1510.91L532.04 1502.44L533.38 1504.17L531.94 1495.73L533.03 1496.59L531.97 1489.52L533.54 1492.11L532.22 1484.1L533.5 1485.66L532.3 1478.07L533.34 1478.74L532.31 1471.79L533.3 1472.25L532.39 1465.76L533.77 1467.64L532.49 1459.79L533.77 1461.34L532.2 1452.41L534.05 1456.03L532.82 1448.34L534.05 1449.68L532.55 1441.03L533.61 1441.75L532.79 1435.57L533.79 1436.09L533.04 1430.16L534.06 1430.74L532.52 1421.95L533.47 1422.25L534.05 1427.31L532.75 1425.47L534.46 1434.65L533.41 1433.71L534.73 1441.48L533.26 1438.98L534.94 1448.07L533.34 1445.12L534.97 1454.03L533.75 1452.46L535.18 1460.62L534.43 1460.79L533.65 1454.13L535.57 1457.36L534.26 1448.74L535.78 1450.49L534.5 1442.02L535.62 1442.29L535.39 1437.66L535.72 1439.71L537.02 1445.33L537.32 1447.3L537.22 1442.54L538.36 1442.33L537.66 1435.38L539.36 1437.23L538.28 1428.86L539.25 1428.03L539.91 1433.28L538.7 1431.68L540 1439.29L539 1438.44L540.48 1446.72L539.22 1444.9L540.27 1451.6L539.06 1449.98L540.81 1459.24L539.59 1457.6L540.21 1462.72L540.82 1461.66L539.71 1454.3L541.11 1456.16L540.05 1448.99L540.85 1448.64L540.2 1442.97L541.51 1444.5L540.38 1437.08L541.43 1437.65L540.48 1430.89L541.4 1430.97L540.64 1424.9L541.67 1425.4L541.18 1420.32L540.99 1415.85L541.91 1415.45L541.46 1410L542.43 1409.8L541.63 1403.06L542.79 1403.53L542.37 1398.22L543.48 1398.5L543.1 1393.34L542.63 1388.21L544.04 1390L543.04 1382.96L544.01 1383.12L542.99 1375.97L543.93 1376.06L542.78 1368.44L544.24 1370.41L543.54 1364.46L544.59 1364.9L544.07 1359.61L544.15 1361.76L545.74 1369.43L544.99 1368.54L545.99 1374.07L546.43 1378.51L545.8 1379.05L546.96 1386.17L545.78 1384.67L547.13 1392.48L545.78 1390.36L547.36 1399.01L546.02 1396.94L547.03 1403.49L546.17 1403.19L547.54 1411.05L546.05 1408.46L547.35 1416.06L546.54 1415.95L546.96 1420.32L547.88 1419.9L546.37 1410.57L548.17 1413.37L547.37 1406.64L548.14 1405.68L547.66 1400.12L548.59 1399.72L548.05 1393.94L548.86 1393.13L547.98 1386.11L548.88 1385.63L549.85 1385.79L548.61 1377.85L550.05 1379.75L548.57 1370.95L550.08 1373.1L548.42 1363.63L550.32 1367.21L549.17 1359.58L550.04 1359.42L548.93 1351.95L550.62 1354.77L549.43 1347L549.85 1345.16L550.43 1350.02L549.18 1348.18L550.5 1355.75L549.68 1355.48L550.84 1362.46L549.68 1360.93L551.43 1370.09L550.21 1368.34L551.5 1375.79L550.81 1375.99L550.1 1370.1L551.8 1373.05L550.36 1364.49L552 1367.21L550.62 1358.9L551.79 1359.9L550.85 1353.17L552.17 1354.74L550.82 1346.5L551.97 1347.43L551.17 1341.21L552.41 1342.48L551.01 1334.08L551.77 1333.6L553.7 1333.6L554.69 1339.43L553.59 1337.64L554.98 1344.94L554.19 1344.27L555.57 1351.55L554.72 1350.65L555.24 1354.79L555.88 1353.96L554.51 1345.79L556.08 1348.4L555.01 1341.34L555.84 1341.24L554.57 1333.43L556.17 1336.16L554.6 1327.26L556.38 1330.65L554.95 1322.24L556.46 1324.63L554.82 1315.47L555.63 1315.29L556.53 1320.3L555.86 1319.58L557.12 1325.92L557.17 1327.81L557.06 1321.92L559 1323.52L558.52 1316.25L558.4 1318.07L559.67 1324.97L558.88 1324.32L559.83 1330.03L559 1329.25L560.42 1336.69L559.89 1337L560.45 1341.3L560.96 1339.5L559.97 1332.18L561.5 1334.08L560.64 1327.26L561.5 1326.72L560.24 1318.42L561.74 1320.22L560.76 1312.93L562.12 1314.22L560.86 1305.91L561.8 1305.65L563.34 1302.76L564.51 1301.69L563.48 1292.54L565.43 1294.3L565.26 1288.31L564.99 1289.82L565.95 1295.86L565.34 1296.14L566.66 1303.51L565.59 1302.12L566.4 1307.59L566.23 1309.51L565.53 1302.46L567.13 1303.83L566.06 1295.41L567.19 1295.05L568.16 1300.83L569.46 1298.89L569.48 1292.21L571.05 1291.2L571.81 1288.95L570.84 1280.39L572.01 1279.64L573.68 1285.1L573.94 1285.42L573.7 1285.91L575.7 1294.61L574.51 1291.61L575.86 1297.94L576.96 1296.58L576.33 1288.85L578.19 1290.27L577.81 1283.51L578.76 1281.56L581.65 1280.6L583.94 1287.57L584.54 1288.31L584.33 1282.41L585.5 1281.56L587.78 1288.48L588.39 1289.27L588.45 1283.37L589.35 1280.6L592.25 1283.49L594.17 1280.6L598.03 1279.64L603.81 1278.67L608.63 1280.6L609.59 1278.67L609.6 1278.3L890.5 1278.3" fill="none" stroke="#0000ff" stroke-width="1.5" stroke-linejoin="round"/><path d="M495.2 1278.3V1750.5" fill="none" stroke="#0000ff" stroke-width="2.1" stroke-dasharray="7.7 3.3"/><path d="M533.9 1278.3V1750.5" fill="none" stroke="#0000ff" stroke-width="2.1" stroke-dasharray="7.7 3.3"/><path d="M115.5 1740.5H512.8V1473.7H890.5M512.8 1615H890.5" fill="none" stroke="#0000ff" stroke-width="2.1" stroke-linejoin="miter"/></g>
<rect x="115.5" y="210.3" width="775.0" height="471.9" fill="none" stroke="#000" stroke-width="1.1"/>
<path d="M115.5 682.2v4.9M212.38 682.2v4.9M309.25 682.2v4.9M406.12 682.2v4.9M503 682.2v4.9M599.88 682.2v4.9M696.75 682.2v4.9M793.62 682.2v4.9M890.5 682.2v4.9M115.5 210.3v-4.9M212.38 210.3v-4.9M309.25 210.3v-4.9M406.12 210.3v-4.9M503 210.3v-4.9M599.88 210.3v-4.9M696.75 210.3v-4.9M793.62 210.3v-4.9M890.5 210.3v-4.9M115.5 682.2h-4.9M115.5 582.93h-4.9M115.5 483.65h-4.9M115.5 384.38h-4.9M115.5 285.1h-4.9" stroke="#000" stroke-width="1.1" fill="none"/>
<text x="107" y="691.4" font-size="25" text-anchor="end">0</text>
<text x="107" y="592.13" font-size="25" text-anchor="end">1</text>
<text x="107" y="492.85" font-size="25" text-anchor="end">2</text>
<text x="107" y="393.57" font-size="25" text-anchor="end">3</text>
<text x="107" y="294.3" font-size="25" text-anchor="end">4</text>
<rect x="115.5" y="744.2" width="775.0" height="472.1" fill="none" stroke="#000" stroke-width="1.1"/>
<path d="M115.5 1216.3v4.9M212.38 1216.3v4.9M309.25 1216.3v4.9M406.12 1216.3v4.9M503 1216.3v4.9M599.88 1216.3v4.9M696.75 1216.3v4.9M793.62 1216.3v4.9M890.5 1216.3v4.9M115.5 1216.3h-4.9M115.5 1162.26h-4.9M115.5 1108.22h-4.9M115.5 1054.18h-4.9M115.5 1000.14h-4.9M115.5 946.1h-4.9M115.5 892.06h-4.9M115.5 838.02h-4.9M115.5 783.98h-4.9" stroke="#000" stroke-width="1.1" fill="none"/>
<text x="107" y="1225.5" font-size="25" text-anchor="end">0</text>
<text x="107" y="1171.46" font-size="25" text-anchor="end">1</text>
<text x="107" y="1117.42" font-size="25" text-anchor="end">2</text>
<text x="107" y="1063.38" font-size="25" text-anchor="end">3</text>
<text x="107" y="1009.34" font-size="25" text-anchor="end">4</text>
<text x="107" y="955.3" font-size="25" text-anchor="end">5</text>
<text x="107" y="901.26" font-size="25" text-anchor="end">6</text>
<text x="107" y="847.22" font-size="25" text-anchor="end">7</text>
<text x="107" y="793.18" font-size="25" text-anchor="end">8</text>
<rect x="115.5" y="1278.3" width="775.0" height="472.2" fill="none" stroke="#000" stroke-width="1.1"/>
<path d="M115.5 1750.5v4.9M212.38 1750.5v4.9M309.25 1750.5v4.9M406.12 1750.5v4.9M503 1750.5v4.9M599.88 1750.5v4.9M696.75 1750.5v4.9M793.62 1750.5v4.9M890.5 1750.5v4.9M115.5 1750.5h-4.9M115.5 1696.46h-4.9M115.5 1642.42h-4.9M115.5 1588.38h-4.9M115.5 1534.34h-4.9M115.5 1480.3h-4.9M115.5 1426.26h-4.9M115.5 1372.22h-4.9M115.5 1318.18h-4.9" stroke="#000" stroke-width="1.1" fill="none"/>
<text x="107" y="1759.7" font-size="25" text-anchor="end">0</text>
<text x="107" y="1705.66" font-size="25" text-anchor="end">1</text>
<text x="107" y="1651.62" font-size="25" text-anchor="end">2</text>
<text x="107" y="1597.58" font-size="25" text-anchor="end">3</text>
<text x="107" y="1543.54" font-size="25" text-anchor="end">4</text>
<text x="107" y="1489.5" font-size="25" text-anchor="end">5</text>
<text x="107" y="1435.46" font-size="25" text-anchor="end">6</text>
<text x="107" y="1381.42" font-size="25" text-anchor="end">7</text>
<text x="107" y="1327.38" font-size="25" text-anchor="end">8</text>
<path d="M115.5 744.2H633M712 744.2H890.5" stroke="#0000ff" stroke-opacity="0.55" stroke-width="1.1" fill="none"/>
<path d="M115.5 1278.3H458M606 1278.3H890.5" stroke="#0000ff" stroke-opacity="0.55" stroke-width="1.1" fill="none"/>
<text x="115.5" y="1779" font-size="25" text-anchor="middle">4</text>
<text x="212.38" y="1779" font-size="25" text-anchor="middle">5</text>
<text x="309.25" y="1779" font-size="25" text-anchor="middle">6</text>
<text x="406.12" y="1779" font-size="25" text-anchor="middle">7</text>
<text x="503" y="1779" font-size="25" text-anchor="middle">8</text>
<text x="599.88" y="1779" font-size="25" text-anchor="middle">9</text>
<text x="696.75" y="1779" font-size="25" text-anchor="middle">10</text>
<text x="793.62" y="1779" font-size="25" text-anchor="middle">11</text>
<text x="890.5" y="1779" font-size="25" text-anchor="middle">12</text>
<text x="115.5" y="196" font-size="20.8" text-anchor="middle">63</text>
<text x="212.38" y="196" font-size="20.8" text-anchor="middle">100</text>
<text x="309.25" y="196" font-size="20.8" text-anchor="middle">158</text>
<text x="406.12" y="196" font-size="20.8" text-anchor="middle">251</text>
<text x="503" y="196" font-size="20.8" text-anchor="middle">398</text>
<text x="599.88" y="196" font-size="20.8" text-anchor="middle">630</text>
<text x="696.75" y="196" font-size="20.8" text-anchor="middle">1000</text>
<text x="793.62" y="196" font-size="20.8" text-anchor="middle">1584</text>
<text x="890.5" y="196" font-size="20.8" text-anchor="middle">2511</text>
<text x="520.8" y="47" font-size="48.6" font-style="oblique" text-anchor="middle">Before Gaia (Schlafly et al. 2014)</text>
<text x="494.5" y="110" font-size="42" text-anchor="middle">D (pc)</text>
<text x="528" y="1830" font-size="48.6" text-anchor="middle"><tspan font-style="oblique">μ</tspan> (mag)</text>
<text transform="translate(47.8,922.8) rotate(-90)" font-size="48.6" text-anchor="middle"><tspan font-style="oblique">A</tspan>(<tspan font-style="oblique">V</tspan>) (mag)</text>
<text x="796.5" y="257" font-size="28.4" text-anchor="middle">Hercules</text>
<text x="798" y="791" font-size="28.4" text-anchor="middle">Mon OB1</text>
<text x="799.5" y="1325" font-size="28.4" text-anchor="middle">Orion</text>
<rect x="184.1" y="130.2" width="336" height="33.5" fill="#ffd700"/>
<path d="M348.15 163.2H355.45V195.6H359.45L351.8 210L344.15 195.6H348.15Z" fill="#ffd700"/>
<text x="184.7" y="152.5" font-size="25.1" font-weight="bold">Distance</text>
<text x="314.7" y="152.5" font-size="24.6" font-weight="bold">(D</text>
<text x="346.4" y="156.3" font-size="17.2" font-weight="bold">C</text>
<text x="359.7" y="152.5" font-size="24.6" font-weight="bold">)</text>
<text x="377.3" y="152.5" font-size="24.6" font-weight="bold">=</text>
<text x="404" y="152.5" font-size="24.6" font-weight="bold">194</text>
<text x="456.8" y="142.7" font-size="17.2" font-weight="bold">+7</text>
<text x="456.8" y="159.5" font-size="17.2" font-weight="bold">−7</text>
<text x="491.2" y="152.5" font-size="24.6">pc</text>
<rect x="497.5" y="691.1" width="348.4" height="33.5" fill="#ffd700"/>
<path d="M667.85 724.1H675.15V729.6H679.15L671.5 744L663.85 729.6H667.85Z" fill="#ffd700"/>
<text x="498.1" y="713.4" font-size="25.1" font-weight="bold">Distance</text>
<text x="628.1" y="713.4" font-size="24.6" font-weight="bold">(D</text>
<text x="659.8" y="717.2" font-size="17.2" font-weight="bold">C</text>
<text x="673.1" y="713.4" font-size="24.6" font-weight="bold">)</text>
<text x="690.7" y="713.4" font-size="24.6" font-weight="bold">=</text>
<text x="717.4" y="713.4" font-size="24.6" font-weight="bold">887</text>
<text x="770.2" y="703.6" font-size="17.2" font-weight="bold">+53</text>
<text x="770.2" y="720.4" font-size="17.2" font-weight="bold">−44</text>
<text x="816.6" y="713.4" font-size="24.6">pc</text>
<rect x="339" y="1225.2" width="348.4" height="33.5" fill="#ffd700"/>
<path d="M509.65 1258.2H516.95V1263.6H520.95L513.3 1278L505.65 1263.6H509.65Z" fill="#ffd700"/>
<text x="339.6" y="1247.5" font-size="25.1" font-weight="bold">Distance</text>
<text x="469.6" y="1247.5" font-size="24.6" font-weight="bold">(D</text>
<text x="501.3" y="1251.3" font-size="17.2" font-weight="bold">C</text>
<text x="514.6" y="1247.5" font-size="24.6" font-weight="bold">)</text>
<text x="532.2" y="1247.5" font-size="24.6" font-weight="bold">=</text>
<text x="558.9" y="1247.5" font-size="24.6" font-weight="bold">418</text>
<text x="611.7" y="1237.7" font-size="17.2" font-weight="bold">+43</text>
<text x="611.7" y="1254.5" font-size="17.2" font-weight="bold">−34</text>
<text x="658.1" y="1247.5" font-size="24.6">pc</text>
</svg>
</body></html>
